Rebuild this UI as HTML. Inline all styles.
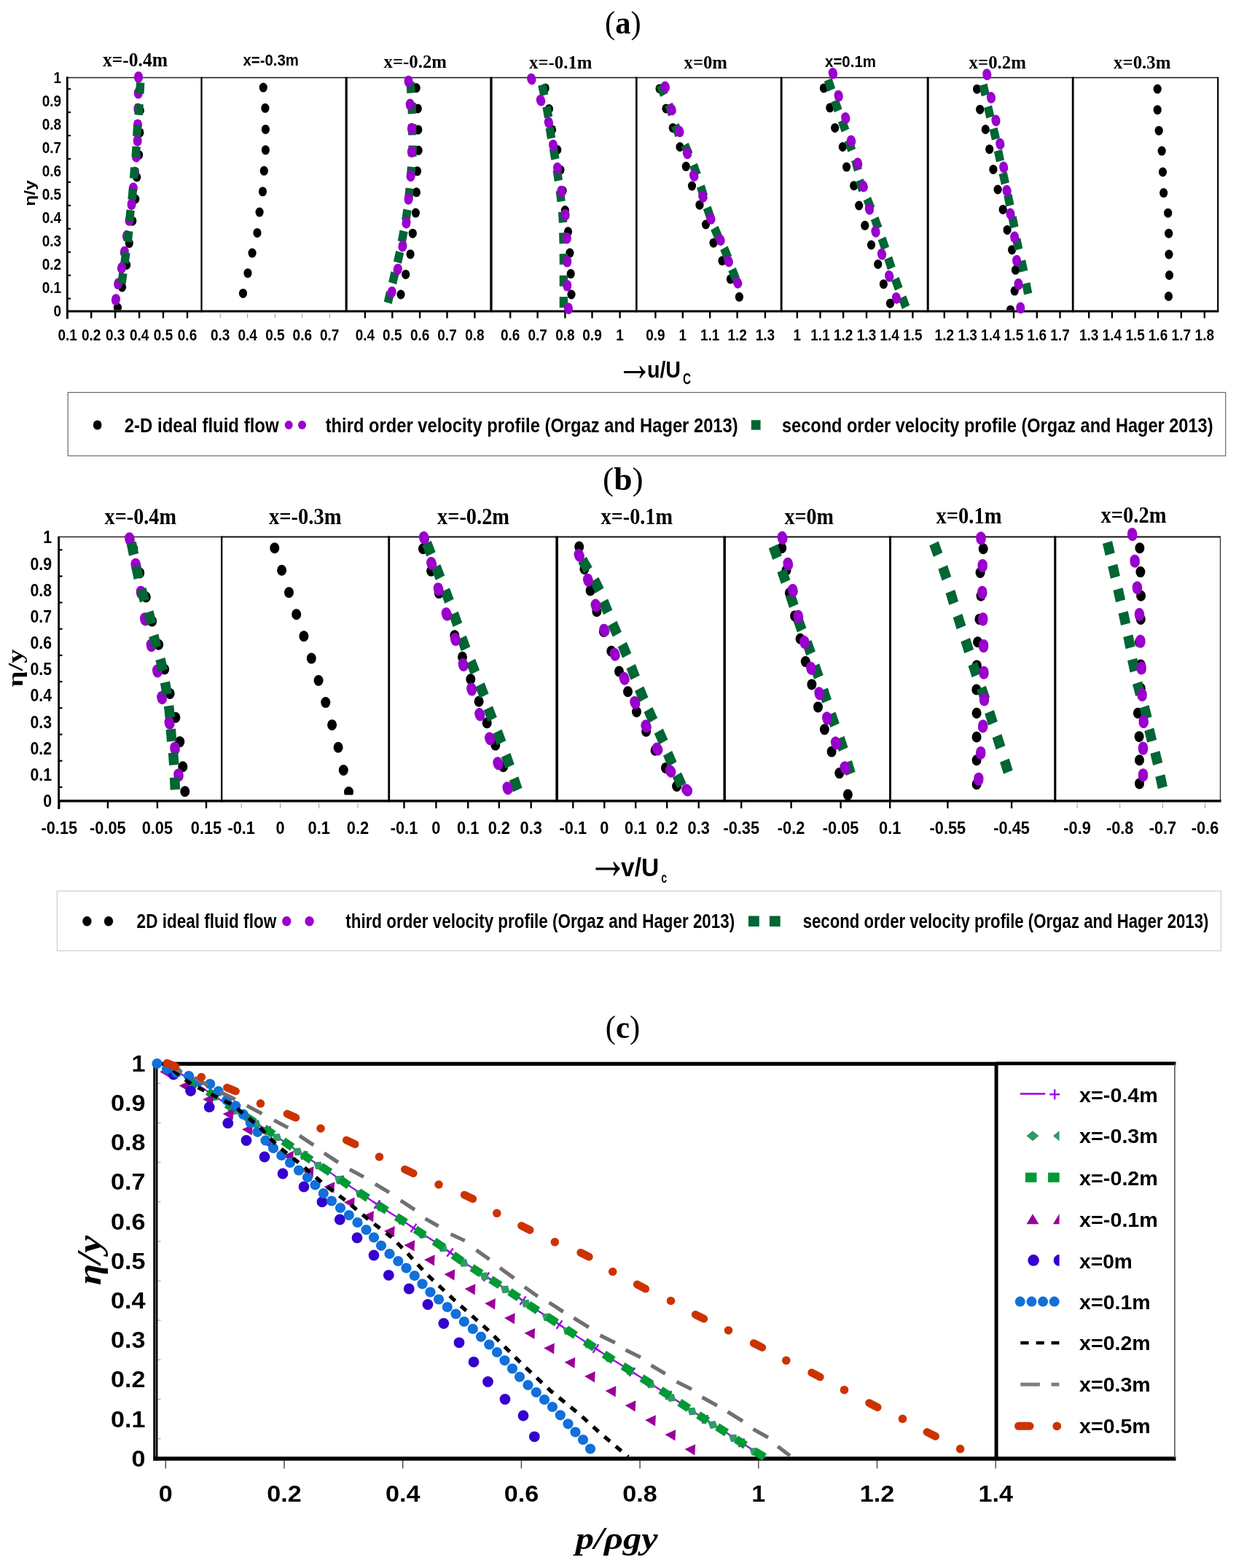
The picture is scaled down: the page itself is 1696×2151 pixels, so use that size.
<!DOCTYPE html>
<html><head><meta charset="utf-8"><title>Velocity and pressure profiles</title>
<style>html,body{margin:0;padding:0;background:#fff;}svg{display:block;}</style></head>
<body><svg xmlns="http://www.w3.org/2000/svg" width="1696" height="2151" viewBox="0 0 1696 2151">
<rect x="0" y="0" width="1696" height="2151" fill="#fff"/>
<text x="830.0" y="45.5" font-family='"Liberation Serif", "Times New Roman", serif' font-size="45" font-weight="normal" text-anchor="start" fill="#000" textLength="49.7" lengthAdjust="spacingAndGlyphs">(<tspan font-weight="bold">a</tspan>)</text>
<text x="141.0" y="90.8" font-family='"Liberation Serif", "Times New Roman", serif' font-size="27" font-weight="bold" text-anchor="start" fill="#000" textLength="89.0" lengthAdjust="spacingAndGlyphs">x=-0.4m</text>
<line x1="93.0" y1="106.5" x2="276.5" y2="106.5" stroke="#222" stroke-width="1.3" stroke-linecap="butt"/>
<line x1="92.0" y1="427.0" x2="277.5" y2="427.0" stroke="#000" stroke-width="3.0" stroke-linecap="butt"/>
<line x1="92.7" y1="427.0" x2="92.7" y2="436.5" stroke="#000" stroke-width="2.4" stroke-linecap="butt"/>
<text x="92.7" y="466.9" font-family='"Liberation Sans", Arial, sans-serif' font-size="21.8" font-weight="bold" text-anchor="middle" fill="#000" textLength="26.4" lengthAdjust="spacingAndGlyphs">0.1</text>
<line x1="125.2" y1="427.0" x2="125.2" y2="436.5" stroke="#000" stroke-width="2.4" stroke-linecap="butt"/>
<text x="125.2" y="466.9" font-family='"Liberation Sans", Arial, sans-serif' font-size="21.8" font-weight="bold" text-anchor="middle" fill="#000" textLength="26.4" lengthAdjust="spacingAndGlyphs">0.2</text>
<line x1="158.1" y1="427.0" x2="158.1" y2="436.5" stroke="#000" stroke-width="2.4" stroke-linecap="butt"/>
<text x="158.1" y="466.9" font-family='"Liberation Sans", Arial, sans-serif' font-size="21.8" font-weight="bold" text-anchor="middle" fill="#000" textLength="26.4" lengthAdjust="spacingAndGlyphs">0.3</text>
<line x1="191.1" y1="427.0" x2="191.1" y2="436.5" stroke="#000" stroke-width="2.4" stroke-linecap="butt"/>
<text x="191.1" y="466.9" font-family='"Liberation Sans", Arial, sans-serif' font-size="21.8" font-weight="bold" text-anchor="middle" fill="#000" textLength="26.4" lengthAdjust="spacingAndGlyphs">0.4</text>
<line x1="224.0" y1="427.0" x2="224.0" y2="436.5" stroke="#000" stroke-width="2.4" stroke-linecap="butt"/>
<text x="224.0" y="466.9" font-family='"Liberation Sans", Arial, sans-serif' font-size="21.8" font-weight="bold" text-anchor="middle" fill="#000" textLength="26.4" lengthAdjust="spacingAndGlyphs">0.5</text>
<line x1="257.0" y1="427.0" x2="257.0" y2="436.5" stroke="#000" stroke-width="2.4" stroke-linecap="butt"/>
<text x="257.0" y="466.9" font-family='"Liberation Sans", Arial, sans-serif' font-size="21.8" font-weight="bold" text-anchor="middle" fill="#000" textLength="26.4" lengthAdjust="spacingAndGlyphs">0.6</text>
<text x="333.5" y="90.0" font-family='"Liberation Sans", Arial, sans-serif' font-size="21.5" font-weight="bold" text-anchor="start" fill="#000" textLength="76.5" lengthAdjust="spacingAndGlyphs">x=-0.3m</text>
<line x1="276.5" y1="106.5" x2="474.7" y2="106.5" stroke="#111" stroke-width="1.6" stroke-linecap="butt"/>
<line x1="276.5" y1="105.7" x2="276.5" y2="428.0" stroke="#000" stroke-width="2.2" stroke-linecap="butt"/>
<line x1="474.7" y1="105.7" x2="474.7" y2="428.0" stroke="#000" stroke-width="2.2" stroke-linecap="butt"/>
<line x1="275.5" y1="427.0" x2="475.7" y2="427.0" stroke="#000" stroke-width="3.0" stroke-linecap="butt"/>
<line x1="302.2" y1="430.0" x2="302.2" y2="436.0" stroke="#999" stroke-width="1.0" stroke-linecap="butt"/>
<text x="302.2" y="466.9" font-family='"Liberation Sans", Arial, sans-serif' font-size="21.8" font-weight="bold" text-anchor="middle" fill="#000" textLength="26.4" lengthAdjust="spacingAndGlyphs">0.3</text>
<line x1="339.6" y1="430.0" x2="339.6" y2="436.0" stroke="#999" stroke-width="1.0" stroke-linecap="butt"/>
<text x="339.6" y="466.9" font-family='"Liberation Sans", Arial, sans-serif' font-size="21.8" font-weight="bold" text-anchor="middle" fill="#000" textLength="26.4" lengthAdjust="spacingAndGlyphs">0.4</text>
<line x1="377.4" y1="430.0" x2="377.4" y2="436.0" stroke="#999" stroke-width="1.0" stroke-linecap="butt"/>
<text x="377.4" y="466.9" font-family='"Liberation Sans", Arial, sans-serif' font-size="21.8" font-weight="bold" text-anchor="middle" fill="#000" textLength="26.4" lengthAdjust="spacingAndGlyphs">0.5</text>
<line x1="414.8" y1="430.0" x2="414.8" y2="436.0" stroke="#999" stroke-width="1.0" stroke-linecap="butt"/>
<text x="414.8" y="466.9" font-family='"Liberation Sans", Arial, sans-serif' font-size="21.8" font-weight="bold" text-anchor="middle" fill="#000" textLength="26.4" lengthAdjust="spacingAndGlyphs">0.6</text>
<line x1="452.2" y1="430.0" x2="452.2" y2="436.0" stroke="#999" stroke-width="1.0" stroke-linecap="butt"/>
<text x="452.2" y="466.9" font-family='"Liberation Sans", Arial, sans-serif' font-size="21.8" font-weight="bold" text-anchor="middle" fill="#000" textLength="26.4" lengthAdjust="spacingAndGlyphs">0.7</text>
<text x="526.5" y="92.5" font-family='"Liberation Serif", "Times New Roman", serif' font-size="26" font-weight="bold" text-anchor="start" fill="#000" textLength="86.5" lengthAdjust="spacingAndGlyphs">x=-0.2m</text>
<line x1="475.7" y1="106.5" x2="673.4" y2="106.5" stroke="#111" stroke-width="1.6" stroke-linecap="butt"/>
<line x1="475.7" y1="105.7" x2="475.7" y2="428.0" stroke="#000" stroke-width="2.2" stroke-linecap="butt"/>
<line x1="673.4" y1="105.7" x2="673.4" y2="428.0" stroke="#000" stroke-width="2.2" stroke-linecap="butt"/>
<line x1="474.7" y1="427.0" x2="674.4" y2="427.0" stroke="#000" stroke-width="3.0" stroke-linecap="butt"/>
<line x1="500.9" y1="427.0" x2="500.9" y2="436.5" stroke="#000" stroke-width="2.4" stroke-linecap="butt"/>
<text x="500.9" y="466.9" font-family='"Liberation Sans", Arial, sans-serif' font-size="21.8" font-weight="bold" text-anchor="middle" fill="#000" textLength="26.4" lengthAdjust="spacingAndGlyphs">0.4</text>
<line x1="538.3" y1="427.0" x2="538.3" y2="436.5" stroke="#000" stroke-width="2.4" stroke-linecap="butt"/>
<text x="538.3" y="466.9" font-family='"Liberation Sans", Arial, sans-serif' font-size="21.8" font-weight="bold" text-anchor="middle" fill="#000" textLength="26.4" lengthAdjust="spacingAndGlyphs">0.5</text>
<line x1="576.1" y1="427.0" x2="576.1" y2="436.5" stroke="#000" stroke-width="2.4" stroke-linecap="butt"/>
<text x="576.1" y="466.9" font-family='"Liberation Sans", Arial, sans-serif' font-size="21.8" font-weight="bold" text-anchor="middle" fill="#000" textLength="26.4" lengthAdjust="spacingAndGlyphs">0.6</text>
<line x1="613.5" y1="427.0" x2="613.5" y2="436.5" stroke="#000" stroke-width="2.4" stroke-linecap="butt"/>
<text x="613.5" y="466.9" font-family='"Liberation Sans", Arial, sans-serif' font-size="21.8" font-weight="bold" text-anchor="middle" fill="#000" textLength="26.4" lengthAdjust="spacingAndGlyphs">0.7</text>
<line x1="651.4" y1="427.0" x2="651.4" y2="436.5" stroke="#000" stroke-width="2.4" stroke-linecap="butt"/>
<text x="651.4" y="466.9" font-family='"Liberation Sans", Arial, sans-serif' font-size="21.8" font-weight="bold" text-anchor="middle" fill="#000" textLength="26.4" lengthAdjust="spacingAndGlyphs">0.8</text>
<text x="726.0" y="93.5" font-family='"Liberation Serif", "Times New Roman", serif' font-size="26" font-weight="bold" text-anchor="start" fill="#000" textLength="86.5" lengthAdjust="spacingAndGlyphs">x=-0.1m</text>
<line x1="674.5" y1="106.5" x2="873.3" y2="106.5" stroke="#111" stroke-width="1.6" stroke-linecap="butt"/>
<line x1="674.5" y1="105.7" x2="674.5" y2="428.0" stroke="#000" stroke-width="2.2" stroke-linecap="butt"/>
<line x1="873.3" y1="105.7" x2="873.3" y2="428.0" stroke="#000" stroke-width="2.2" stroke-linecap="butt"/>
<line x1="673.5" y1="427.0" x2="874.3" y2="427.0" stroke="#000" stroke-width="3.0" stroke-linecap="butt"/>
<line x1="700.2" y1="427.0" x2="700.2" y2="436.5" stroke="#000" stroke-width="2.4" stroke-linecap="butt"/>
<text x="700.2" y="466.9" font-family='"Liberation Sans", Arial, sans-serif' font-size="21.8" font-weight="bold" text-anchor="middle" fill="#000" textLength="26.4" lengthAdjust="spacingAndGlyphs">0.6</text>
<line x1="737.6" y1="427.0" x2="737.6" y2="436.5" stroke="#000" stroke-width="2.4" stroke-linecap="butt"/>
<text x="737.6" y="466.9" font-family='"Liberation Sans", Arial, sans-serif' font-size="21.8" font-weight="bold" text-anchor="middle" fill="#000" textLength="26.4" lengthAdjust="spacingAndGlyphs">0.7</text>
<line x1="775.4" y1="427.0" x2="775.4" y2="436.5" stroke="#000" stroke-width="2.4" stroke-linecap="butt"/>
<text x="775.4" y="466.9" font-family='"Liberation Sans", Arial, sans-serif' font-size="21.8" font-weight="bold" text-anchor="middle" fill="#000" textLength="26.4" lengthAdjust="spacingAndGlyphs">0.8</text>
<line x1="812.5" y1="427.0" x2="812.5" y2="436.5" stroke="#000" stroke-width="2.4" stroke-linecap="butt"/>
<text x="812.5" y="466.9" font-family='"Liberation Sans", Arial, sans-serif' font-size="21.8" font-weight="bold" text-anchor="middle" fill="#000" textLength="26.4" lengthAdjust="spacingAndGlyphs">0.9</text>
<line x1="850.6" y1="427.0" x2="850.6" y2="436.5" stroke="#000" stroke-width="2.4" stroke-linecap="butt"/>
<text x="850.6" y="466.9" font-family='"Liberation Sans", Arial, sans-serif' font-size="21.8" font-weight="bold" text-anchor="middle" fill="#000" textLength="10.5" lengthAdjust="spacingAndGlyphs">1</text>
<text x="938.5" y="94.0" font-family='"Liberation Serif", "Times New Roman", serif' font-size="26" font-weight="bold" text-anchor="start" fill="#000" textLength="59.5" lengthAdjust="spacingAndGlyphs">x=0m</text>
<line x1="873.3" y1="106.5" x2="1071.8" y2="106.5" stroke="#111" stroke-width="1.6" stroke-linecap="butt"/>
<line x1="873.3" y1="105.7" x2="873.3" y2="428.0" stroke="#000" stroke-width="2.2" stroke-linecap="butt"/>
<line x1="1071.8" y1="105.7" x2="1071.8" y2="428.0" stroke="#000" stroke-width="2.2" stroke-linecap="butt"/>
<line x1="872.3" y1="427.0" x2="1072.8" y2="427.0" stroke="#000" stroke-width="3.0" stroke-linecap="butt"/>
<line x1="899.4" y1="427.0" x2="899.4" y2="436.5" stroke="#000" stroke-width="2.4" stroke-linecap="butt"/>
<text x="899.4" y="466.9" font-family='"Liberation Sans", Arial, sans-serif' font-size="21.8" font-weight="bold" text-anchor="middle" fill="#000" textLength="26.4" lengthAdjust="spacingAndGlyphs">0.9</text>
<line x1="936.8" y1="427.0" x2="936.8" y2="436.5" stroke="#000" stroke-width="2.4" stroke-linecap="butt"/>
<text x="936.8" y="466.9" font-family='"Liberation Sans", Arial, sans-serif' font-size="21.8" font-weight="bold" text-anchor="middle" fill="#000" textLength="10.5" lengthAdjust="spacingAndGlyphs">1</text>
<line x1="974.2" y1="427.0" x2="974.2" y2="436.5" stroke="#000" stroke-width="2.4" stroke-linecap="butt"/>
<text x="974.2" y="466.9" font-family='"Liberation Sans", Arial, sans-serif' font-size="21.8" font-weight="bold" text-anchor="middle" fill="#000" textLength="26.4" lengthAdjust="spacingAndGlyphs">1.1</text>
<line x1="1011.6" y1="427.0" x2="1011.6" y2="436.5" stroke="#000" stroke-width="2.4" stroke-linecap="butt"/>
<text x="1011.6" y="466.9" font-family='"Liberation Sans", Arial, sans-serif' font-size="21.8" font-weight="bold" text-anchor="middle" fill="#000" textLength="26.4" lengthAdjust="spacingAndGlyphs">1.2</text>
<line x1="1049.9" y1="427.0" x2="1049.9" y2="436.5" stroke="#000" stroke-width="2.4" stroke-linecap="butt"/>
<text x="1049.9" y="466.9" font-family='"Liberation Sans", Arial, sans-serif' font-size="21.8" font-weight="bold" text-anchor="middle" fill="#000" textLength="26.4" lengthAdjust="spacingAndGlyphs">1.3</text>
<text x="1132.0" y="91.5" font-family='"Liberation Sans", Arial, sans-serif' font-size="21.5" font-weight="bold" text-anchor="start" fill="#000" textLength="70.0" lengthAdjust="spacingAndGlyphs">x=0.1m</text>
<line x1="1072.5" y1="106.5" x2="1272.8" y2="106.5" stroke="#111" stroke-width="1.6" stroke-linecap="butt"/>
<line x1="1072.5" y1="105.7" x2="1072.5" y2="428.0" stroke="#000" stroke-width="2.2" stroke-linecap="butt"/>
<line x1="1272.8" y1="105.7" x2="1272.8" y2="428.0" stroke="#000" stroke-width="2.2" stroke-linecap="butt"/>
<line x1="1071.5" y1="427.0" x2="1273.8" y2="427.0" stroke="#000" stroke-width="3.0" stroke-linecap="butt"/>
<line x1="1093.8" y1="427.0" x2="1093.8" y2="436.5" stroke="#000" stroke-width="2.4" stroke-linecap="butt"/>
<text x="1093.8" y="466.9" font-family='"Liberation Sans", Arial, sans-serif' font-size="21.8" font-weight="bold" text-anchor="middle" fill="#000" textLength="10.5" lengthAdjust="spacingAndGlyphs">1</text>
<line x1="1125.5" y1="427.0" x2="1125.5" y2="436.5" stroke="#000" stroke-width="2.4" stroke-linecap="butt"/>
<text x="1125.5" y="466.9" font-family='"Liberation Sans", Arial, sans-serif' font-size="21.8" font-weight="bold" text-anchor="middle" fill="#000" textLength="26.4" lengthAdjust="spacingAndGlyphs">1.1</text>
<line x1="1157.1" y1="427.0" x2="1157.1" y2="436.5" stroke="#000" stroke-width="2.4" stroke-linecap="butt"/>
<text x="1157.1" y="466.9" font-family='"Liberation Sans", Arial, sans-serif' font-size="21.8" font-weight="bold" text-anchor="middle" fill="#000" textLength="26.4" lengthAdjust="spacingAndGlyphs">1.2</text>
<line x1="1189.0" y1="427.0" x2="1189.0" y2="436.5" stroke="#000" stroke-width="2.4" stroke-linecap="butt"/>
<text x="1189.0" y="466.9" font-family='"Liberation Sans", Arial, sans-serif' font-size="21.8" font-weight="bold" text-anchor="middle" fill="#000" textLength="26.4" lengthAdjust="spacingAndGlyphs">1.3</text>
<line x1="1220.7" y1="427.0" x2="1220.7" y2="436.5" stroke="#000" stroke-width="2.4" stroke-linecap="butt"/>
<text x="1220.7" y="466.9" font-family='"Liberation Sans", Arial, sans-serif' font-size="21.8" font-weight="bold" text-anchor="middle" fill="#000" textLength="26.4" lengthAdjust="spacingAndGlyphs">1.4</text>
<line x1="1252.4" y1="427.0" x2="1252.4" y2="436.5" stroke="#000" stroke-width="2.4" stroke-linecap="butt"/>
<text x="1252.4" y="466.9" font-family='"Liberation Sans", Arial, sans-serif' font-size="21.8" font-weight="bold" text-anchor="middle" fill="#000" textLength="26.4" lengthAdjust="spacingAndGlyphs">1.5</text>
<text x="1329.5" y="94.0" font-family='"Liberation Serif", "Times New Roman", serif' font-size="26" font-weight="bold" text-anchor="start" fill="#000" textLength="78.5" lengthAdjust="spacingAndGlyphs">x=0.2m</text>
<line x1="1273.6" y1="106.5" x2="1471.9" y2="106.5" stroke="#111" stroke-width="1.6" stroke-linecap="butt"/>
<line x1="1273.6" y1="105.7" x2="1273.6" y2="428.0" stroke="#000" stroke-width="2.2" stroke-linecap="butt"/>
<line x1="1471.9" y1="105.7" x2="1471.9" y2="428.0" stroke="#000" stroke-width="2.2" stroke-linecap="butt"/>
<line x1="1272.6" y1="427.0" x2="1472.9" y2="427.0" stroke="#000" stroke-width="3.0" stroke-linecap="butt"/>
<line x1="1295.8" y1="427.0" x2="1295.8" y2="436.5" stroke="#000" stroke-width="2.4" stroke-linecap="butt"/>
<text x="1295.8" y="466.9" font-family='"Liberation Sans", Arial, sans-serif' font-size="21.8" font-weight="bold" text-anchor="middle" fill="#000" textLength="26.4" lengthAdjust="spacingAndGlyphs">1.2</text>
<line x1="1327.6" y1="427.0" x2="1327.6" y2="436.5" stroke="#000" stroke-width="2.4" stroke-linecap="butt"/>
<text x="1327.6" y="466.9" font-family='"Liberation Sans", Arial, sans-serif' font-size="21.8" font-weight="bold" text-anchor="middle" fill="#000" textLength="26.4" lengthAdjust="spacingAndGlyphs">1.3</text>
<line x1="1359.3" y1="427.0" x2="1359.3" y2="436.5" stroke="#000" stroke-width="2.4" stroke-linecap="butt"/>
<text x="1359.3" y="466.9" font-family='"Liberation Sans", Arial, sans-serif' font-size="21.8" font-weight="bold" text-anchor="middle" fill="#000" textLength="26.4" lengthAdjust="spacingAndGlyphs">1.4</text>
<line x1="1391.0" y1="427.0" x2="1391.0" y2="436.5" stroke="#000" stroke-width="2.4" stroke-linecap="butt"/>
<text x="1391.0" y="466.9" font-family='"Liberation Sans", Arial, sans-serif' font-size="21.8" font-weight="bold" text-anchor="middle" fill="#000" textLength="26.4" lengthAdjust="spacingAndGlyphs">1.5</text>
<line x1="1422.8" y1="427.0" x2="1422.8" y2="436.5" stroke="#000" stroke-width="2.4" stroke-linecap="butt"/>
<text x="1422.8" y="466.9" font-family='"Liberation Sans", Arial, sans-serif' font-size="21.8" font-weight="bold" text-anchor="middle" fill="#000" textLength="26.4" lengthAdjust="spacingAndGlyphs">1.6</text>
<line x1="1454.5" y1="427.0" x2="1454.5" y2="436.5" stroke="#000" stroke-width="2.4" stroke-linecap="butt"/>
<text x="1454.5" y="466.9" font-family='"Liberation Sans", Arial, sans-serif' font-size="21.8" font-weight="bold" text-anchor="middle" fill="#000" textLength="26.4" lengthAdjust="spacingAndGlyphs">1.7</text>
<text x="1528.0" y="94.0" font-family='"Liberation Serif", "Times New Roman", serif' font-size="26" font-weight="bold" text-anchor="start" fill="#000" textLength="78.5" lengthAdjust="spacingAndGlyphs">x=0.3m</text>
<line x1="1472.5" y1="106.5" x2="1671.2" y2="106.5" stroke="#111" stroke-width="1.6" stroke-linecap="butt"/>
<line x1="1472.5" y1="105.7" x2="1472.5" y2="428.0" stroke="#000" stroke-width="2.2" stroke-linecap="butt"/>
<line x1="1671.2" y1="105.7" x2="1671.2" y2="428.0" stroke="#000" stroke-width="2.2" stroke-linecap="butt"/>
<line x1="1471.5" y1="427.0" x2="1672.2" y2="427.0" stroke="#000" stroke-width="3.0" stroke-linecap="butt"/>
<line x1="1494.2" y1="427.0" x2="1494.2" y2="436.5" stroke="#000" stroke-width="2.4" stroke-linecap="butt"/>
<text x="1494.2" y="466.9" font-family='"Liberation Sans", Arial, sans-serif' font-size="21.8" font-weight="bold" text-anchor="middle" fill="#000" textLength="26.4" lengthAdjust="spacingAndGlyphs">1.3</text>
<line x1="1525.9" y1="427.0" x2="1525.9" y2="436.5" stroke="#000" stroke-width="2.4" stroke-linecap="butt"/>
<text x="1525.9" y="466.9" font-family='"Liberation Sans", Arial, sans-serif' font-size="21.8" font-weight="bold" text-anchor="middle" fill="#000" textLength="26.4" lengthAdjust="spacingAndGlyphs">1.4</text>
<line x1="1557.6" y1="427.0" x2="1557.6" y2="436.5" stroke="#000" stroke-width="2.4" stroke-linecap="butt"/>
<text x="1557.6" y="466.9" font-family='"Liberation Sans", Arial, sans-serif' font-size="21.8" font-weight="bold" text-anchor="middle" fill="#000" textLength="26.4" lengthAdjust="spacingAndGlyphs">1.5</text>
<line x1="1589.0" y1="427.0" x2="1589.0" y2="436.5" stroke="#000" stroke-width="2.4" stroke-linecap="butt"/>
<text x="1589.0" y="466.9" font-family='"Liberation Sans", Arial, sans-serif' font-size="21.8" font-weight="bold" text-anchor="middle" fill="#000" textLength="26.4" lengthAdjust="spacingAndGlyphs">1.6</text>
<line x1="1620.8" y1="427.0" x2="1620.8" y2="436.5" stroke="#000" stroke-width="2.4" stroke-linecap="butt"/>
<text x="1620.8" y="466.9" font-family='"Liberation Sans", Arial, sans-serif' font-size="21.8" font-weight="bold" text-anchor="middle" fill="#000" textLength="26.4" lengthAdjust="spacingAndGlyphs">1.7</text>
<line x1="1652.8" y1="427.0" x2="1652.8" y2="436.5" stroke="#000" stroke-width="2.4" stroke-linecap="butt"/>
<text x="1652.8" y="466.9" font-family='"Liberation Sans", Arial, sans-serif' font-size="21.8" font-weight="bold" text-anchor="middle" fill="#000" textLength="26.4" lengthAdjust="spacingAndGlyphs">1.8</text>
<line x1="92.3" y1="105.3" x2="92.3" y2="437.5" stroke="#000" stroke-width="2.8" stroke-linecap="butt"/>
<line x1="92.3" y1="122.1" x2="97.0" y2="122.1" stroke="#000" stroke-width="2.2" stroke-linecap="butt"/>
<line x1="92.3" y1="154.0" x2="97.0" y2="154.0" stroke="#000" stroke-width="2.2" stroke-linecap="butt"/>
<line x1="92.3" y1="186.0" x2="97.0" y2="186.0" stroke="#000" stroke-width="2.2" stroke-linecap="butt"/>
<line x1="92.3" y1="217.9" x2="97.0" y2="217.9" stroke="#000" stroke-width="2.2" stroke-linecap="butt"/>
<line x1="92.3" y1="249.9" x2="97.0" y2="249.9" stroke="#000" stroke-width="2.2" stroke-linecap="butt"/>
<line x1="92.3" y1="281.9" x2="97.0" y2="281.9" stroke="#000" stroke-width="2.2" stroke-linecap="butt"/>
<line x1="92.3" y1="313.8" x2="97.0" y2="313.8" stroke="#000" stroke-width="2.2" stroke-linecap="butt"/>
<line x1="92.3" y1="345.8" x2="97.0" y2="345.8" stroke="#000" stroke-width="2.2" stroke-linecap="butt"/>
<line x1="92.3" y1="377.7" x2="97.0" y2="377.7" stroke="#000" stroke-width="2.2" stroke-linecap="butt"/>
<line x1="92.3" y1="409.6" x2="97.0" y2="409.6" stroke="#000" stroke-width="2.2" stroke-linecap="butt"/>
<text x="84.2" y="433.8" font-family='"Liberation Sans", Arial, sans-serif' font-size="21.4" font-weight="bold" text-anchor="end" fill="#000" textLength="10.6" lengthAdjust="spacingAndGlyphs">0</text>
<text x="84.2" y="401.8" font-family='"Liberation Sans", Arial, sans-serif' font-size="21.4" font-weight="bold" text-anchor="end" fill="#000" textLength="26.5" lengthAdjust="spacingAndGlyphs">0.1</text>
<text x="84.2" y="369.9" font-family='"Liberation Sans", Arial, sans-serif' font-size="21.4" font-weight="bold" text-anchor="end" fill="#000" textLength="26.5" lengthAdjust="spacingAndGlyphs">0.2</text>
<text x="84.2" y="337.9" font-family='"Liberation Sans", Arial, sans-serif' font-size="21.4" font-weight="bold" text-anchor="end" fill="#000" textLength="26.5" lengthAdjust="spacingAndGlyphs">0.3</text>
<text x="84.2" y="306.0" font-family='"Liberation Sans", Arial, sans-serif' font-size="21.4" font-weight="bold" text-anchor="end" fill="#000" textLength="26.5" lengthAdjust="spacingAndGlyphs">0.4</text>
<text x="84.2" y="274.0" font-family='"Liberation Sans", Arial, sans-serif' font-size="21.4" font-weight="bold" text-anchor="end" fill="#000" textLength="26.5" lengthAdjust="spacingAndGlyphs">0.5</text>
<text x="84.2" y="242.1" font-family='"Liberation Sans", Arial, sans-serif' font-size="21.4" font-weight="bold" text-anchor="end" fill="#000" textLength="26.5" lengthAdjust="spacingAndGlyphs">0.6</text>
<text x="84.2" y="210.2" font-family='"Liberation Sans", Arial, sans-serif' font-size="21.4" font-weight="bold" text-anchor="end" fill="#000" textLength="26.5" lengthAdjust="spacingAndGlyphs">0.7</text>
<text x="84.2" y="178.2" font-family='"Liberation Sans", Arial, sans-serif' font-size="21.4" font-weight="bold" text-anchor="end" fill="#000" textLength="26.5" lengthAdjust="spacingAndGlyphs">0.8</text>
<text x="84.2" y="146.2" font-family='"Liberation Sans", Arial, sans-serif' font-size="21.4" font-weight="bold" text-anchor="end" fill="#000" textLength="26.5" lengthAdjust="spacingAndGlyphs">0.9</text>
<text x="84.2" y="114.3" font-family='"Liberation Sans", Arial, sans-serif' font-size="21.4" font-weight="bold" text-anchor="end" fill="#000" textLength="10.6" lengthAdjust="spacingAndGlyphs">1</text>
<text x="0.0" y="0.0" font-family='"Liberation Sans", Arial, sans-serif' font-size="19.5" font-weight="bold" text-anchor="middle" fill="#000" textLength="35.5" lengthAdjust="spacingAndGlyphs" transform="translate(48.2,264.9) rotate(-90)">η/y</text>
<text x="0.0" y="0.0" font-family='"Liberation Serif", "Times New Roman", serif' font-size="50" font-weight="normal" text-anchor="start" fill="#000" transform="translate(846,521.9) scale(1,1.4)">→</text>
<text x="887.9" y="518.2" font-family='"Liberation Sans", Arial, sans-serif' font-size="30.5" font-weight="bold" text-anchor="start" fill="#000" textLength="46.2" lengthAdjust="spacingAndGlyphs">u/U</text>
<text x="937.0" y="526.5" font-family='"Liberation Sans", Arial, sans-serif' font-size="22" font-weight="bold" text-anchor="start" fill="#000" textLength="11.1" lengthAdjust="spacingAndGlyphs">C</text>
<clipPath id="clipA"><rect x="0" y="0" width="1696" height="425.5"/></clipPath>
<g clip-path="url(#clipA)">
<ellipse cx="192.3" cy="121.0" rx="5.6" ry="6.5" fill="#000"/>
<ellipse cx="192.3" cy="151.5" rx="5.6" ry="6.5" fill="#000"/>
<ellipse cx="191.9" cy="181.9" rx="5.6" ry="6.5" fill="#000"/>
<ellipse cx="190.6" cy="212.4" rx="5.6" ry="6.5" fill="#000"/>
<ellipse cx="187.7" cy="243.0" rx="5.6" ry="6.5" fill="#000"/>
<ellipse cx="185.8" cy="273.0" rx="5.6" ry="6.5" fill="#000"/>
<ellipse cx="181.7" cy="303.2" rx="5.6" ry="6.5" fill="#000"/>
<ellipse cx="177.3" cy="333.6" rx="5.6" ry="6.5" fill="#000"/>
<ellipse cx="173.6" cy="363.4" rx="5.6" ry="6.5" fill="#000"/>
<ellipse cx="167.5" cy="394.0" rx="5.6" ry="6.5" fill="#000"/>
<ellipse cx="161.4" cy="422.0" rx="5.6" ry="6.5" fill="#000"/>
<ellipse cx="361.3" cy="120.1" rx="5.6" ry="6.5" fill="#000"/>
<ellipse cx="363.9" cy="148.3" rx="5.6" ry="6.5" fill="#000"/>
<ellipse cx="364.4" cy="177.4" rx="5.6" ry="6.5" fill="#000"/>
<ellipse cx="364.4" cy="205.8" rx="5.6" ry="6.5" fill="#000"/>
<ellipse cx="362.3" cy="234.3" rx="5.6" ry="6.5" fill="#000"/>
<ellipse cx="360.5" cy="262.8" rx="5.6" ry="6.5" fill="#000"/>
<ellipse cx="356.1" cy="291.1" rx="5.6" ry="6.5" fill="#000"/>
<ellipse cx="353.0" cy="319.4" rx="5.6" ry="6.5" fill="#000"/>
<ellipse cx="346.1" cy="347.1" rx="5.6" ry="6.5" fill="#000"/>
<ellipse cx="340.0" cy="374.7" rx="5.6" ry="6.5" fill="#000"/>
<ellipse cx="333.5" cy="402.4" rx="5.6" ry="6.5" fill="#000"/>
<ellipse cx="571.2" cy="120.6" rx="5.6" ry="6.5" fill="#000"/>
<ellipse cx="573.3" cy="148.9" rx="5.6" ry="6.5" fill="#000"/>
<ellipse cx="573.8" cy="177.9" rx="5.6" ry="6.5" fill="#000"/>
<ellipse cx="574.1" cy="206.3" rx="5.6" ry="6.5" fill="#000"/>
<ellipse cx="572.5" cy="234.8" rx="5.6" ry="6.5" fill="#000"/>
<ellipse cx="571.4" cy="263.8" rx="5.6" ry="6.5" fill="#000"/>
<ellipse cx="570.4" cy="292.1" rx="5.6" ry="6.5" fill="#000"/>
<ellipse cx="566.3" cy="320.2" rx="5.6" ry="6.5" fill="#000"/>
<ellipse cx="563.1" cy="348.7" rx="5.6" ry="6.5" fill="#000"/>
<ellipse cx="556.7" cy="376.4" rx="5.6" ry="6.5" fill="#000"/>
<ellipse cx="550.0" cy="404.0" rx="5.6" ry="6.5" fill="#000"/>
<ellipse cx="748.2" cy="120.9" rx="5.6" ry="6.5" fill="#000"/>
<ellipse cx="753.4" cy="149.4" rx="5.6" ry="6.5" fill="#000"/>
<ellipse cx="757.5" cy="177.9" rx="5.6" ry="6.5" fill="#000"/>
<ellipse cx="764.8" cy="205.5" rx="5.6" ry="6.5" fill="#000"/>
<ellipse cx="768.9" cy="233.2" rx="5.6" ry="6.5" fill="#000"/>
<ellipse cx="772.1" cy="261.7" rx="5.6" ry="6.5" fill="#000"/>
<ellipse cx="775.4" cy="288.5" rx="5.6" ry="6.5" fill="#000"/>
<ellipse cx="779.5" cy="317.8" rx="5.6" ry="6.5" fill="#000"/>
<ellipse cx="781.9" cy="347.1" rx="5.6" ry="6.5" fill="#000"/>
<ellipse cx="783.2" cy="375.6" rx="5.6" ry="6.5" fill="#000"/>
<ellipse cx="784.0" cy="404.0" rx="5.6" ry="6.5" fill="#000"/>
<ellipse cx="905.1" cy="121.7" rx="5.6" ry="6.5" fill="#000"/>
<ellipse cx="914.0" cy="148.9" rx="5.6" ry="6.5" fill="#000"/>
<ellipse cx="923.3" cy="175.4" rx="5.6" ry="6.5" fill="#000"/>
<ellipse cx="933.0" cy="201.5" rx="5.6" ry="6.5" fill="#000"/>
<ellipse cx="941.3" cy="228.3" rx="5.6" ry="6.5" fill="#000"/>
<ellipse cx="949.5" cy="255.1" rx="5.6" ry="6.5" fill="#000"/>
<ellipse cx="960.0" cy="281.2" rx="5.6" ry="6.5" fill="#000"/>
<ellipse cx="968.5" cy="308.0" rx="5.6" ry="6.5" fill="#000"/>
<ellipse cx="979.1" cy="333.2" rx="5.6" ry="6.5" fill="#000"/>
<ellipse cx="991.0" cy="357.7" rx="5.6" ry="6.5" fill="#000"/>
<ellipse cx="1002.4" cy="382.9" rx="5.6" ry="6.5" fill="#000"/>
<ellipse cx="1014.4" cy="407.3" rx="5.6" ry="6.5" fill="#000"/>
<ellipse cx="1130.4" cy="120.9" rx="5.6" ry="6.5" fill="#000"/>
<ellipse cx="1138.8" cy="147.8" rx="5.6" ry="6.5" fill="#000"/>
<ellipse cx="1145.7" cy="175.4" rx="5.6" ry="6.5" fill="#000"/>
<ellipse cx="1156.3" cy="201.5" rx="5.6" ry="6.5" fill="#000"/>
<ellipse cx="1161.6" cy="229.1" rx="5.6" ry="6.5" fill="#000"/>
<ellipse cx="1171.7" cy="254.7" rx="5.6" ry="6.5" fill="#000"/>
<ellipse cx="1178.7" cy="282.0" rx="5.6" ry="6.5" fill="#000"/>
<ellipse cx="1186.8" cy="309.3" rx="5.6" ry="6.5" fill="#000"/>
<ellipse cx="1195.5" cy="336.0" rx="5.6" ry="6.5" fill="#000"/>
<ellipse cx="1204.7" cy="362.5" rx="5.6" ry="6.5" fill="#000"/>
<ellipse cx="1212.4" cy="389.7" rx="5.6" ry="6.5" fill="#000"/>
<ellipse cx="1221.5" cy="416.2" rx="5.6" ry="6.5" fill="#000"/>
<ellipse cx="1340.6" cy="122.2" rx="5.6" ry="6.5" fill="#000"/>
<ellipse cx="1344.7" cy="150.2" rx="5.6" ry="6.5" fill="#000"/>
<ellipse cx="1352.3" cy="177.5" rx="5.6" ry="6.5" fill="#000"/>
<ellipse cx="1357.7" cy="204.7" rx="5.6" ry="6.5" fill="#000"/>
<ellipse cx="1362.9" cy="232.4" rx="5.6" ry="6.5" fill="#000"/>
<ellipse cx="1369.1" cy="260.0" rx="5.6" ry="6.5" fill="#000"/>
<ellipse cx="1376.2" cy="287.4" rx="5.6" ry="6.5" fill="#000"/>
<ellipse cx="1382.1" cy="315.4" rx="5.6" ry="6.5" fill="#000"/>
<ellipse cx="1388.6" cy="342.7" rx="5.6" ry="6.5" fill="#000"/>
<ellipse cx="1393.5" cy="370.3" rx="5.6" ry="6.5" fill="#000"/>
<ellipse cx="1392.2" cy="399.1" rx="5.6" ry="6.5" fill="#000"/>
<ellipse cx="1386.5" cy="425.2" rx="5.6" ry="6.5" fill="#000"/>
<ellipse cx="1588.2" cy="122.1" rx="5.6" ry="6.5" fill="#000"/>
<ellipse cx="1588.2" cy="150.7" rx="5.6" ry="6.5" fill="#000"/>
<ellipse cx="1590.2" cy="179.2" rx="5.6" ry="6.5" fill="#000"/>
<ellipse cx="1594.2" cy="207.1" rx="5.6" ry="6.5" fill="#000"/>
<ellipse cx="1595.5" cy="236.0" rx="5.6" ry="6.5" fill="#000"/>
<ellipse cx="1596.7" cy="264.6" rx="5.6" ry="6.5" fill="#000"/>
<ellipse cx="1602.7" cy="292.2" rx="5.6" ry="6.5" fill="#000"/>
<ellipse cx="1603.7" cy="320.2" rx="5.6" ry="6.5" fill="#000"/>
<ellipse cx="1604.0" cy="349.0" rx="5.6" ry="6.5" fill="#000"/>
<ellipse cx="1604.5" cy="377.5" rx="5.6" ry="6.5" fill="#000"/>
<ellipse cx="1603.5" cy="406.5" rx="5.6" ry="6.5" fill="#000"/>
</g>
<g transform="translate(563.6,120.1) scale(1,1.15)">
<line x1="-0.4" y1="-6.5" x2="0.4" y2="6.5" stroke="#006633" stroke-width="11.4" stroke-linecap="butt"/>
</g>
<g transform="translate(565.2,148.6) scale(1,1.15)">
<line x1="-0.3" y1="-6.5" x2="0.3" y2="6.5" stroke="#006633" stroke-width="11.4" stroke-linecap="butt"/>
</g>
<g transform="translate(565.7,177.9) scale(1,1.15)">
<line x1="-0.1" y1="-6.5" x2="0.1" y2="6.5" stroke="#006633" stroke-width="11.4" stroke-linecap="butt"/>
</g>
<g transform="translate(566.0,207.1) scale(1,1.15)">
<line x1="0.2" y1="-6.5" x2="-0.2" y2="6.5" stroke="#006633" stroke-width="11.4" stroke-linecap="butt"/>
</g>
<g transform="translate(564.0,236.4) scale(1,1.15)">
<line x1="0.6" y1="-6.5" x2="-0.6" y2="6.5" stroke="#006633" stroke-width="11.4" stroke-linecap="butt"/>
</g>
<g transform="translate(561.4,265.7) scale(1,1.15)">
<line x1="0.8" y1="-6.5" x2="-0.8" y2="6.5" stroke="#006633" stroke-width="11.4" stroke-linecap="butt"/>
</g>
<g transform="translate(557.9,295.0) scale(1,1.15)">
<line x1="1.1" y1="-6.4" x2="-1.1" y2="6.4" stroke="#006633" stroke-width="11.4" stroke-linecap="butt"/>
</g>
<g transform="translate(552.7,324.3) scale(1,1.15)">
<line x1="1.4" y1="-6.4" x2="-1.4" y2="6.4" stroke="#006633" stroke-width="11.4" stroke-linecap="butt"/>
</g>
<g transform="translate(547.1,352.8) scale(1,1.15)">
<line x1="1.6" y1="-6.3" x2="-1.6" y2="6.3" stroke="#006633" stroke-width="11.4" stroke-linecap="butt"/>
</g>
<g transform="translate(540.3,381.2) scale(1,1.15)">
<line x1="1.7" y1="-6.3" x2="-1.7" y2="6.3" stroke="#006633" stroke-width="11.4" stroke-linecap="butt"/>
</g>
<g transform="translate(533.9,408.1) scale(1,1.15)">
<line x1="1.7" y1="-6.3" x2="-1.7" y2="6.3" stroke="#006633" stroke-width="11.4" stroke-linecap="butt"/>
</g>
<g transform="translate(745.3,123.4) scale(1,1.15)">
<line x1="-1.5" y1="-6.3" x2="1.5" y2="6.3" stroke="#006633" stroke-width="11.4" stroke-linecap="butt"/>
</g>
<g transform="translate(751.3,153.5) scale(1,1.15)">
<line x1="-1.3" y1="-6.4" x2="1.3" y2="6.4" stroke="#006633" stroke-width="11.4" stroke-linecap="butt"/>
</g>
<g transform="translate(755.4,182.4) scale(1,1.15)">
<line x1="-1.2" y1="-6.4" x2="1.2" y2="6.4" stroke="#006633" stroke-width="11.4" stroke-linecap="butt"/>
</g>
<g transform="translate(760.7,211.2) scale(1,1.15)">
<line x1="-1.2" y1="-6.4" x2="1.2" y2="6.4" stroke="#006633" stroke-width="11.4" stroke-linecap="butt"/>
</g>
<g transform="translate(765.3,240.5) scale(1,1.15)">
<line x1="-1.1" y1="-6.4" x2="1.1" y2="6.4" stroke="#006633" stroke-width="11.4" stroke-linecap="butt"/>
</g>
<g transform="translate(769.2,269.0) scale(1,1.15)">
<line x1="-0.9" y1="-6.4" x2="0.9" y2="6.4" stroke="#006633" stroke-width="11.4" stroke-linecap="butt"/>
</g>
<g transform="translate(772.1,297.9) scale(1,1.15)">
<line x1="-0.5" y1="-6.5" x2="0.5" y2="6.5" stroke="#006633" stroke-width="11.4" stroke-linecap="butt"/>
</g>
<g transform="translate(773.0,326.7) scale(1,1.15)">
<line x1="-0.2" y1="-6.5" x2="0.2" y2="6.5" stroke="#006633" stroke-width="11.4" stroke-linecap="butt"/>
</g>
<g transform="translate(773.4,355.5) scale(1,1.15)">
<line x1="-0.1" y1="-6.5" x2="0.1" y2="6.5" stroke="#006633" stroke-width="11.4" stroke-linecap="butt"/>
</g>
<g transform="translate(773.4,385.3) scale(1,1.15)">
<line x1="-0.0" y1="-6.5" x2="0.0" y2="6.5" stroke="#006633" stroke-width="11.4" stroke-linecap="butt"/>
</g>
<g transform="translate(773.4,414.6) scale(1,1.15)">
<line x1="-0.0" y1="-6.5" x2="0.0" y2="6.5" stroke="#006633" stroke-width="11.4" stroke-linecap="butt"/>
</g>
<g transform="translate(908.6,123.4) scale(1,1.15)">
<line x1="-2.9" y1="-5.8" x2="2.9" y2="5.8" stroke="#006633" stroke-width="11.4" stroke-linecap="butt"/>
</g>
<g transform="translate(920.0,150.2) scale(1,1.15)">
<line x1="-2.5" y1="-6.0" x2="2.5" y2="6.0" stroke="#006633" stroke-width="11.4" stroke-linecap="butt"/>
</g>
<g transform="translate(929.1,178.7) scale(1,1.15)">
<line x1="-2.8" y1="-5.9" x2="2.8" y2="5.9" stroke="#006633" stroke-width="11.4" stroke-linecap="butt"/>
</g>
<g transform="translate(942.5,205.5) scale(1,1.15)">
<line x1="-3.0" y1="-5.8" x2="3.0" y2="5.8" stroke="#006633" stroke-width="11.4" stroke-linecap="butt"/>
</g>
<g transform="translate(953.9,233.2) scale(1,1.15)">
<line x1="-2.5" y1="-6.0" x2="2.5" y2="6.0" stroke="#006633" stroke-width="11.4" stroke-linecap="butt"/>
</g>
<g transform="translate(963.6,262.5) scale(1,1.15)">
<line x1="-2.2" y1="-6.1" x2="2.2" y2="6.1" stroke="#006633" stroke-width="11.4" stroke-linecap="butt"/>
</g>
<g transform="translate(972.6,291.8) scale(1,1.15)">
<line x1="-2.4" y1="-6.0" x2="2.4" y2="6.0" stroke="#006633" stroke-width="11.4" stroke-linecap="butt"/>
</g>
<g transform="translate(983.2,319.4) scale(1,1.15)">
<line x1="-2.9" y1="-5.8" x2="2.9" y2="5.8" stroke="#006633" stroke-width="11.4" stroke-linecap="butt"/>
</g>
<g transform="translate(996.2,347.1) scale(1,1.15)">
<line x1="-2.8" y1="-5.9" x2="2.8" y2="5.9" stroke="#006633" stroke-width="11.4" stroke-linecap="butt"/>
</g>
<g transform="translate(1007.2,376.4) scale(1,1.15)">
<line x1="-2.6" y1="-6.0" x2="2.6" y2="6.0" stroke="#006633" stroke-width="11.4" stroke-linecap="butt"/>
</g>
<g transform="translate(1138.5,116.4) scale(1,1.15)">
<line x1="-2.3" y1="-6.1" x2="2.3" y2="6.1" stroke="#006633" stroke-width="11.4" stroke-linecap="butt"/>
</g>
<g transform="translate(1147.8,145.0) scale(1,1.15)">
<line x1="-2.4" y1="-6.0" x2="2.4" y2="6.0" stroke="#006633" stroke-width="11.4" stroke-linecap="butt"/>
</g>
<g transform="translate(1157.6,172.2) scale(1,1.15)">
<line x1="-2.4" y1="-6.0" x2="2.4" y2="6.0" stroke="#006633" stroke-width="11.4" stroke-linecap="butt"/>
</g>
<g transform="translate(1166.5,199.3) scale(1,1.15)">
<line x1="-2.3" y1="-6.1" x2="2.3" y2="6.1" stroke="#006633" stroke-width="11.4" stroke-linecap="butt"/>
</g>
<g transform="translate(1175.5,226.3) scale(1,1.15)">
<line x1="-1.9" y1="-6.2" x2="1.9" y2="6.2" stroke="#006633" stroke-width="11.4" stroke-linecap="butt"/>
</g>
<g transform="translate(1181.5,254.3) scale(1,1.15)">
<line x1="-2.2" y1="-6.1" x2="2.2" y2="6.1" stroke="#006633" stroke-width="11.4" stroke-linecap="butt"/>
</g>
<g transform="translate(1192.5,279.6) scale(1,1.15)">
<line x1="-2.7" y1="-5.9" x2="2.7" y2="5.9" stroke="#006633" stroke-width="11.4" stroke-linecap="butt"/>
</g>
<g transform="translate(1202.6,306.4) scale(1,1.15)">
<line x1="-2.5" y1="-6.0" x2="2.5" y2="6.0" stroke="#006633" stroke-width="11.4" stroke-linecap="butt"/>
</g>
<g transform="translate(1212.4,334.0) scale(1,1.15)">
<line x1="-2.4" y1="-6.1" x2="2.4" y2="6.1" stroke="#006633" stroke-width="11.4" stroke-linecap="butt"/>
</g>
<g transform="translate(1221.0,360.9) scale(1,1.15)">
<line x1="-2.3" y1="-6.1" x2="2.3" y2="6.1" stroke="#006633" stroke-width="11.4" stroke-linecap="butt"/>
</g>
<g transform="translate(1230.8,389.4) scale(1,1.15)">
<line x1="-2.5" y1="-6.0" x2="2.5" y2="6.0" stroke="#006633" stroke-width="11.4" stroke-linecap="butt"/>
</g>
<g transform="translate(1240.5,414.6) scale(1,1.15)">
<line x1="-2.6" y1="-5.9" x2="2.6" y2="5.9" stroke="#006633" stroke-width="11.4" stroke-linecap="butt"/>
</g>
<g transform="translate(1350.7,123.4) scale(1,1.15)">
<line x1="-1.6" y1="-6.3" x2="1.6" y2="6.3" stroke="#006633" stroke-width="11.4" stroke-linecap="butt"/>
</g>
<g transform="translate(1357.2,153.5) scale(1,1.15)">
<line x1="-1.7" y1="-6.3" x2="1.7" y2="6.3" stroke="#006633" stroke-width="11.4" stroke-linecap="butt"/>
</g>
<g transform="translate(1364.8,183.6) scale(1,1.15)">
<line x1="-1.7" y1="-6.3" x2="1.7" y2="6.3" stroke="#006633" stroke-width="11.4" stroke-linecap="butt"/>
</g>
<g transform="translate(1371.0,213.7) scale(1,1.15)">
<line x1="-1.5" y1="-6.3" x2="1.5" y2="6.3" stroke="#006633" stroke-width="11.4" stroke-linecap="butt"/>
</g>
<g transform="translate(1377.8,244.6) scale(1,1.15)">
<line x1="-1.6" y1="-6.3" x2="1.6" y2="6.3" stroke="#006633" stroke-width="11.4" stroke-linecap="butt"/>
</g>
<g transform="translate(1384.4,274.7) scale(1,1.15)">
<line x1="-1.5" y1="-6.3" x2="1.5" y2="6.3" stroke="#006633" stroke-width="11.4" stroke-linecap="butt"/>
</g>
<g transform="translate(1390.5,304.8) scale(1,1.15)">
<line x1="-1.4" y1="-6.3" x2="1.4" y2="6.3" stroke="#006633" stroke-width="11.4" stroke-linecap="butt"/>
</g>
<g transform="translate(1396.2,334.9) scale(1,1.15)">
<line x1="-1.5" y1="-6.3" x2="1.5" y2="6.3" stroke="#006633" stroke-width="11.4" stroke-linecap="butt"/>
</g>
<g transform="translate(1403.2,365.0) scale(1,1.15)">
<line x1="-1.6" y1="-6.3" x2="1.6" y2="6.3" stroke="#006633" stroke-width="11.4" stroke-linecap="butt"/>
</g>
<g transform="translate(1409.3,395.9) scale(1,1.15)">
<line x1="-1.4" y1="-6.3" x2="1.4" y2="6.3" stroke="#006633" stroke-width="11.4" stroke-linecap="butt"/>
</g>
<g transform="translate(190.0,105.8) scale(1,1.15)">
<line x1="0.0" y1="-0.9" x2="-0.0" y2="0.9" stroke="#9900cc" stroke-width="11.8" stroke-linecap="round"/>
</g>
<g transform="translate(189.8,127.6) scale(1,1.15)">
<line x1="0.0" y1="-0.9" x2="-0.0" y2="0.9" stroke="#9900cc" stroke-width="11.8" stroke-linecap="round"/>
</g>
<g transform="translate(189.4,149.4) scale(1,1.15)">
<line x1="0.0" y1="-0.9" x2="-0.0" y2="0.9" stroke="#9900cc" stroke-width="11.8" stroke-linecap="round"/>
</g>
<g transform="translate(189.0,171.2) scale(1,1.15)">
<line x1="0.0" y1="-0.9" x2="-0.0" y2="0.9" stroke="#9900cc" stroke-width="11.8" stroke-linecap="round"/>
</g>
<g transform="translate(188.7,193.0) scale(1,1.15)">
<line x1="0.0" y1="-0.9" x2="-0.0" y2="0.9" stroke="#9900cc" stroke-width="11.8" stroke-linecap="round"/>
</g>
<g transform="translate(187.1,214.8) scale(1,1.15)">
<line x1="0.1" y1="-0.9" x2="-0.1" y2="0.9" stroke="#9900cc" stroke-width="11.8" stroke-linecap="round"/>
</g>
<g transform="translate(185.0,236.6) scale(1,1.15)">
<line x1="0.1" y1="-0.9" x2="-0.1" y2="0.9" stroke="#9900cc" stroke-width="11.8" stroke-linecap="round"/>
</g>
<g transform="translate(182.8,258.4) scale(1,1.15)">
<line x1="0.1" y1="-0.9" x2="-0.1" y2="0.9" stroke="#9900cc" stroke-width="11.8" stroke-linecap="round"/>
</g>
<g transform="translate(180.6,280.2) scale(1,1.15)">
<line x1="0.1" y1="-0.9" x2="-0.1" y2="0.9" stroke="#9900cc" stroke-width="11.8" stroke-linecap="round"/>
</g>
<g transform="translate(177.6,302.0) scale(1,1.15)">
<line x1="0.2" y1="-0.9" x2="-0.2" y2="0.9" stroke="#9900cc" stroke-width="11.8" stroke-linecap="round"/>
</g>
<g transform="translate(174.0,323.8) scale(1,1.15)">
<line x1="0.2" y1="-0.9" x2="-0.2" y2="0.9" stroke="#9900cc" stroke-width="11.8" stroke-linecap="round"/>
</g>
<g transform="translate(170.8,345.6) scale(1,1.15)">
<line x1="0.2" y1="-0.9" x2="-0.2" y2="0.9" stroke="#9900cc" stroke-width="11.8" stroke-linecap="round"/>
</g>
<g transform="translate(167.0,367.4) scale(1,1.15)">
<line x1="0.2" y1="-0.9" x2="-0.2" y2="0.9" stroke="#9900cc" stroke-width="11.8" stroke-linecap="round"/>
</g>
<g transform="translate(162.2,389.2) scale(1,1.15)">
<line x1="0.2" y1="-0.9" x2="-0.2" y2="0.9" stroke="#9900cc" stroke-width="11.8" stroke-linecap="round"/>
</g>
<g transform="translate(158.9,411.0) scale(1,1.15)">
<line x1="0.2" y1="-0.9" x2="-0.2" y2="0.9" stroke="#9900cc" stroke-width="11.8" stroke-linecap="round"/>
</g>
<g transform="translate(560.6,111.6) scale(1,1.15)">
<line x1="-0.1" y1="-0.9" x2="0.1" y2="0.9" stroke="#9900cc" stroke-width="11.8" stroke-linecap="round"/>
</g>
<g transform="translate(562.7,143.4) scale(1,1.15)">
<line x1="-0.1" y1="-0.9" x2="0.1" y2="0.9" stroke="#9900cc" stroke-width="11.8" stroke-linecap="round"/>
</g>
<g transform="translate(564.9,176.6) scale(1,1.15)">
<line x1="-0.0" y1="-0.9" x2="0.0" y2="0.9" stroke="#9900cc" stroke-width="11.8" stroke-linecap="round"/>
</g>
<g transform="translate(564.9,208.3) scale(1,1.15)">
<line x1="0.0" y1="-0.9" x2="-0.0" y2="0.9" stroke="#9900cc" stroke-width="11.8" stroke-linecap="round"/>
</g>
<g transform="translate(563.6,241.3) scale(1,1.15)">
<line x1="0.1" y1="-0.9" x2="-0.1" y2="0.9" stroke="#9900cc" stroke-width="11.8" stroke-linecap="round"/>
</g>
<g transform="translate(560.6,273.0) scale(1,1.15)">
<line x1="0.1" y1="-0.9" x2="-0.1" y2="0.9" stroke="#9900cc" stroke-width="11.8" stroke-linecap="round"/>
</g>
<g transform="translate(557.5,305.6) scale(1,1.15)">
<line x1="0.1" y1="-0.9" x2="-0.1" y2="0.9" stroke="#9900cc" stroke-width="11.8" stroke-linecap="round"/>
</g>
<g transform="translate(552.5,337.6) scale(1,1.15)">
<line x1="0.2" y1="-0.9" x2="-0.2" y2="0.9" stroke="#9900cc" stroke-width="11.8" stroke-linecap="round"/>
</g>
<g transform="translate(545.7,369.5) scale(1,1.15)">
<line x1="0.3" y1="-0.9" x2="-0.3" y2="0.9" stroke="#9900cc" stroke-width="11.8" stroke-linecap="round"/>
</g>
<g transform="translate(537.5,400.8) scale(1,1.15)">
<line x1="0.3" y1="-0.9" x2="-0.3" y2="0.9" stroke="#9900cc" stroke-width="11.8" stroke-linecap="round"/>
</g>
<g transform="translate(729.3,108.4) scale(1,1.15)">
<line x1="-0.4" y1="-0.9" x2="0.4" y2="0.9" stroke="#9900cc" stroke-width="11.8" stroke-linecap="round"/>
</g>
<g transform="translate(742.0,137.7) scale(1,1.15)">
<line x1="-0.4" y1="-0.9" x2="0.4" y2="0.9" stroke="#9900cc" stroke-width="11.8" stroke-linecap="round"/>
</g>
<g transform="translate(752.9,168.1) scale(1,1.15)">
<line x1="-0.3" y1="-0.9" x2="0.3" y2="0.9" stroke="#9900cc" stroke-width="11.8" stroke-linecap="round"/>
</g>
<g transform="translate(759.1,199.3) scale(1,1.15)">
<line x1="-0.2" y1="-0.9" x2="0.2" y2="0.9" stroke="#9900cc" stroke-width="11.8" stroke-linecap="round"/>
</g>
<g transform="translate(765.1,230.7) scale(1,1.15)">
<line x1="-0.2" y1="-0.9" x2="0.2" y2="0.9" stroke="#9900cc" stroke-width="11.8" stroke-linecap="round"/>
</g>
<g transform="translate(770.5,262.5) scale(1,1.15)">
<line x1="-0.2" y1="-0.9" x2="0.2" y2="0.9" stroke="#9900cc" stroke-width="11.8" stroke-linecap="round"/>
</g>
<g transform="translate(775.7,294.7) scale(1,1.15)">
<line x1="-0.1" y1="-0.9" x2="0.1" y2="0.9" stroke="#9900cc" stroke-width="11.8" stroke-linecap="round"/>
</g>
<g transform="translate(777.8,326.7) scale(1,1.15)">
<line x1="-0.0" y1="-0.9" x2="0.0" y2="0.9" stroke="#9900cc" stroke-width="11.8" stroke-linecap="round"/>
</g>
<g transform="translate(778.3,358.8) scale(1,1.15)">
<line x1="-0.0" y1="-0.9" x2="0.0" y2="0.9" stroke="#9900cc" stroke-width="11.8" stroke-linecap="round"/>
</g>
<g transform="translate(778.3,391.8) scale(1,1.15)">
<line x1="-0.0" y1="-0.9" x2="0.0" y2="0.9" stroke="#9900cc" stroke-width="11.8" stroke-linecap="round"/>
</g>
<g transform="translate(779.9,423.2) scale(1,1.15)">
<line x1="-0.1" y1="-0.9" x2="0.1" y2="0.9" stroke="#9900cc" stroke-width="11.8" stroke-linecap="round"/>
</g>
<g transform="translate(912.9,119.3) scale(1,1.15)">
<line x1="-0.3" y1="-0.9" x2="0.3" y2="0.9" stroke="#9900cc" stroke-width="11.8" stroke-linecap="round"/>
</g>
<g transform="translate(921.6,150.5) scale(1,1.15)">
<line x1="-0.3" y1="-0.9" x2="0.3" y2="0.9" stroke="#9900cc" stroke-width="11.8" stroke-linecap="round"/>
</g>
<g transform="translate(932.4,180.3) scale(1,1.15)">
<line x1="-0.4" y1="-0.9" x2="0.4" y2="0.9" stroke="#9900cc" stroke-width="11.8" stroke-linecap="round"/>
</g>
<g transform="translate(943.0,210.4) scale(1,1.15)">
<line x1="-0.3" y1="-0.9" x2="0.3" y2="0.9" stroke="#9900cc" stroke-width="11.8" stroke-linecap="round"/>
</g>
<g transform="translate(952.2,241.0) scale(1,1.15)">
<line x1="-0.4" y1="-0.9" x2="0.4" y2="0.9" stroke="#9900cc" stroke-width="11.8" stroke-linecap="round"/>
</g>
<g transform="translate(964.4,269.8) scale(1,1.15)">
<line x1="-0.4" y1="-0.9" x2="0.4" y2="0.9" stroke="#9900cc" stroke-width="11.8" stroke-linecap="round"/>
</g>
<g transform="translate(975.3,299.9) scale(1,1.15)">
<line x1="-0.4" y1="-0.9" x2="0.4" y2="0.9" stroke="#9900cc" stroke-width="11.8" stroke-linecap="round"/>
</g>
<g transform="translate(988.4,329.2) scale(1,1.15)">
<line x1="-0.4" y1="-0.9" x2="0.4" y2="0.9" stroke="#9900cc" stroke-width="11.8" stroke-linecap="round"/>
</g>
<g transform="translate(999.7,358.5) scale(1,1.15)">
<line x1="-0.4" y1="-0.9" x2="0.4" y2="0.9" stroke="#9900cc" stroke-width="11.8" stroke-linecap="round"/>
</g>
<g transform="translate(1012.0,387.8) scale(1,1.15)">
<line x1="-0.4" y1="-0.9" x2="0.4" y2="0.9" stroke="#9900cc" stroke-width="11.8" stroke-linecap="round"/>
</g>
<g transform="translate(1142.9,100.6) scale(1,1.15)">
<line x1="-0.3" y1="-0.9" x2="0.3" y2="0.9" stroke="#9900cc" stroke-width="11.8" stroke-linecap="round"/>
</g>
<g transform="translate(1150.7,131.5) scale(1,1.15)">
<line x1="-0.3" y1="-0.9" x2="0.3" y2="0.9" stroke="#9900cc" stroke-width="11.8" stroke-linecap="round"/>
</g>
<g transform="translate(1160.3,161.9) scale(1,1.15)">
<line x1="-0.3" y1="-0.9" x2="0.3" y2="0.9" stroke="#9900cc" stroke-width="11.8" stroke-linecap="round"/>
</g>
<g transform="translate(1168.1,193.3) scale(1,1.15)">
<line x1="-0.3" y1="-0.9" x2="0.3" y2="0.9" stroke="#9900cc" stroke-width="11.8" stroke-linecap="round"/>
</g>
<g transform="translate(1177.1,224.2) scale(1,1.15)">
<line x1="-0.3" y1="-0.9" x2="0.3" y2="0.9" stroke="#9900cc" stroke-width="11.8" stroke-linecap="round"/>
</g>
<g transform="translate(1184.7,255.6) scale(1,1.15)">
<line x1="-0.3" y1="-0.9" x2="0.3" y2="0.9" stroke="#9900cc" stroke-width="11.8" stroke-linecap="round"/>
</g>
<g transform="translate(1192.9,286.9) scale(1,1.15)">
<line x1="-0.3" y1="-0.9" x2="0.3" y2="0.9" stroke="#9900cc" stroke-width="11.8" stroke-linecap="round"/>
</g>
<g transform="translate(1201.5,317.8) scale(1,1.15)">
<line x1="-0.3" y1="-0.9" x2="0.3" y2="0.9" stroke="#9900cc" stroke-width="11.8" stroke-linecap="round"/>
</g>
<g transform="translate(1210.0,348.7) scale(1,1.15)">
<line x1="-0.3" y1="-0.9" x2="0.3" y2="0.9" stroke="#9900cc" stroke-width="11.8" stroke-linecap="round"/>
</g>
<g transform="translate(1220.2,378.8) scale(1,1.15)">
<line x1="-0.3" y1="-0.9" x2="0.3" y2="0.9" stroke="#9900cc" stroke-width="11.8" stroke-linecap="round"/>
</g>
<g transform="translate(1230.0,408.9) scale(1,1.15)">
<line x1="-0.3" y1="-0.9" x2="0.3" y2="0.9" stroke="#9900cc" stroke-width="11.8" stroke-linecap="round"/>
</g>
<g transform="translate(1354.3,102.2) scale(1,1.15)">
<line x1="-0.2" y1="-0.9" x2="0.2" y2="0.9" stroke="#9900cc" stroke-width="11.8" stroke-linecap="round"/>
</g>
<g transform="translate(1360.0,133.9) scale(1,1.15)">
<line x1="-0.2" y1="-0.9" x2="0.2" y2="0.9" stroke="#9900cc" stroke-width="11.8" stroke-linecap="round"/>
</g>
<g transform="translate(1366.5,165.3) scale(1,1.15)">
<line x1="-0.2" y1="-0.9" x2="0.2" y2="0.9" stroke="#9900cc" stroke-width="11.8" stroke-linecap="round"/>
</g>
<g transform="translate(1372.3,197.4) scale(1,1.15)">
<line x1="-0.2" y1="-0.9" x2="0.2" y2="0.9" stroke="#9900cc" stroke-width="11.8" stroke-linecap="round"/>
</g>
<g transform="translate(1377.2,229.4) scale(1,1.15)">
<line x1="-0.2" y1="-0.9" x2="0.2" y2="0.9" stroke="#9900cc" stroke-width="11.8" stroke-linecap="round"/>
</g>
<g transform="translate(1381.6,261.7) scale(1,1.15)">
<line x1="-0.2" y1="-0.9" x2="0.2" y2="0.9" stroke="#9900cc" stroke-width="11.8" stroke-linecap="round"/>
</g>
<g transform="translate(1386.5,293.4) scale(1,1.15)">
<line x1="-0.2" y1="-0.9" x2="0.2" y2="0.9" stroke="#9900cc" stroke-width="11.8" stroke-linecap="round"/>
</g>
<g transform="translate(1392.2,325.4) scale(1,1.15)">
<line x1="-0.1" y1="-0.9" x2="0.1" y2="0.9" stroke="#9900cc" stroke-width="11.8" stroke-linecap="round"/>
</g>
<g transform="translate(1395.1,357.7) scale(1,1.15)">
<line x1="-0.1" y1="-0.9" x2="0.1" y2="0.9" stroke="#9900cc" stroke-width="11.8" stroke-linecap="round"/>
</g>
<g transform="translate(1397.5,389.9) scale(1,1.15)">
<line x1="-0.1" y1="-0.9" x2="0.1" y2="0.9" stroke="#9900cc" stroke-width="11.8" stroke-linecap="round"/>
</g>
<g transform="translate(1400.3,422.4) scale(1,1.15)">
<line x1="-0.1" y1="-0.9" x2="0.1" y2="0.9" stroke="#9900cc" stroke-width="11.8" stroke-linecap="round"/>
</g>
<g transform="translate(192.3,120.9) scale(1,1.15)">
<line x1="0.4" y1="-6.5" x2="-0.4" y2="6.5" stroke="#006633" stroke-width="11.4" stroke-linecap="butt"/>
</g>
<g transform="translate(190.6,150.2) scale(1,1.15)">
<line x1="0.5" y1="-6.5" x2="-0.5" y2="6.5" stroke="#006633" stroke-width="11.4" stroke-linecap="butt"/>
</g>
<g transform="translate(188.2,179.5) scale(1,1.15)">
<line x1="0.5" y1="-6.5" x2="-0.5" y2="6.5" stroke="#006633" stroke-width="11.4" stroke-linecap="butt"/>
</g>
<g transform="translate(186.6,208.5) scale(1,1.15)">
<line x1="0.5" y1="-6.5" x2="-0.5" y2="6.5" stroke="#006633" stroke-width="11.4" stroke-linecap="butt"/>
</g>
<g transform="translate(184.1,237.3) scale(1,1.15)">
<line x1="0.6" y1="-6.5" x2="-0.6" y2="6.5" stroke="#006633" stroke-width="11.4" stroke-linecap="butt"/>
</g>
<g transform="translate(181.7,266.5) scale(1,1.15)">
<line x1="0.7" y1="-6.5" x2="-0.7" y2="6.5" stroke="#006633" stroke-width="11.4" stroke-linecap="butt"/>
</g>
<g transform="translate(178.4,295.8) scale(1,1.15)">
<line x1="0.7" y1="-6.5" x2="-0.7" y2="6.5" stroke="#006633" stroke-width="11.4" stroke-linecap="butt"/>
</g>
<g transform="translate(176.0,324.3) scale(1,1.15)">
<line x1="0.8" y1="-6.4" x2="-0.8" y2="6.4" stroke="#006633" stroke-width="11.4" stroke-linecap="butt"/>
</g>
<g transform="translate(171.9,353.6) scale(1,1.15)">
<line x1="1.0" y1="-6.4" x2="-1.0" y2="6.4" stroke="#006633" stroke-width="11.4" stroke-linecap="butt"/>
</g>
<g transform="translate(167.9,382.0) scale(1,1.15)">
<line x1="1.0" y1="-6.4" x2="-1.0" y2="6.4" stroke="#006633" stroke-width="11.4" stroke-linecap="butt"/>
</g>
<rect x="93.2" y="538.4" width="1588.5" height="86.9" fill="none" stroke="#6a6a6a" stroke-width="1.2"/>
<ellipse cx="133.7" cy="583.0" rx="5.8" ry="6.6" fill="#000"/>
<text x="170.7" y="592.9" font-family='"Liberation Sans", Arial, sans-serif' font-size="27.5" font-weight="bold" text-anchor="start" fill="#000" textLength="212.0" lengthAdjust="spacingAndGlyphs">2-D ideal fluid flow</text>
<ellipse cx="396.2" cy="583.0" rx="5.5" ry="6.0" fill="#9900cc"/>
<ellipse cx="414.5" cy="583.0" rx="5.5" ry="6.0" fill="#9900cc"/>
<text x="446.7" y="592.9" font-family='"Liberation Sans", Arial, sans-serif' font-size="27.5" font-weight="bold" text-anchor="start" fill="#000" textLength="566.0" lengthAdjust="spacingAndGlyphs">third order velocity profile (Orgaz and Hager 2013)</text>
<rect x="1030.8" y="576.3" width="12.8" height="13.4" fill="#006633"/>
<text x="1073.0" y="592.9" font-family='"Liberation Sans", Arial, sans-serif' font-size="27.5" font-weight="bold" text-anchor="start" fill="#000" textLength="591.5" lengthAdjust="spacingAndGlyphs">second order velocity profile (Orgaz and Hager 2013)</text>
<text x="827.0" y="671.8" font-family='"Liberation Serif", "Times New Roman", serif' font-size="45" font-weight="normal" text-anchor="start" fill="#000" textLength="55.6" lengthAdjust="spacingAndGlyphs">(<tspan font-weight="bold">b</tspan>)</text>
<text x="143.5" y="718.7" font-family='"Liberation Serif", "Times New Roman", serif' font-size="31" font-weight="bold" text-anchor="start" fill="#000" textLength="98.5" lengthAdjust="spacingAndGlyphs">x=-0.4m</text>
<line x1="81.3" y1="736.5" x2="304.2" y2="736.5" stroke="#222" stroke-width="1.4" stroke-linecap="butt"/>
<line x1="80.3" y1="1098.8" x2="305.2" y2="1098.8" stroke="#000" stroke-width="3.6" stroke-linecap="butt"/>
<line x1="81.3" y1="1098.8" x2="81.3" y2="1108.8" stroke="#000" stroke-width="2.4" stroke-linecap="butt"/>
<text x="81.3" y="1143.8" font-family='"Liberation Sans", Arial, sans-serif' font-size="24" font-weight="bold" text-anchor="middle" fill="#000" textLength="49.6" lengthAdjust="spacingAndGlyphs">-0.15</text>
<line x1="147.9" y1="1098.8" x2="147.9" y2="1108.8" stroke="#000" stroke-width="2.4" stroke-linecap="butt"/>
<text x="147.9" y="1143.8" font-family='"Liberation Sans", Arial, sans-serif' font-size="24" font-weight="bold" text-anchor="middle" fill="#000" textLength="49.6" lengthAdjust="spacingAndGlyphs">-0.05</text>
<line x1="215.9" y1="1098.8" x2="215.9" y2="1108.8" stroke="#000" stroke-width="2.4" stroke-linecap="butt"/>
<text x="215.9" y="1143.8" font-family='"Liberation Sans", Arial, sans-serif' font-size="24" font-weight="bold" text-anchor="middle" fill="#000" textLength="42.4" lengthAdjust="spacingAndGlyphs">0.05</text>
<line x1="283.0" y1="1098.8" x2="283.0" y2="1108.8" stroke="#000" stroke-width="2.4" stroke-linecap="butt"/>
<text x="283.0" y="1143.8" font-family='"Liberation Sans", Arial, sans-serif' font-size="24" font-weight="bold" text-anchor="middle" fill="#000" textLength="42.4" lengthAdjust="spacingAndGlyphs">0.15</text>
<text x="369.0" y="718.7" font-family='"Liberation Serif", "Times New Roman", serif' font-size="31" font-weight="bold" text-anchor="start" fill="#000" textLength="99.5" lengthAdjust="spacingAndGlyphs">x=-0.3m</text>
<line x1="304.2" y1="736.5" x2="533.5" y2="736.5" stroke="#111" stroke-width="1.8" stroke-linecap="butt"/>
<line x1="304.2" y1="735.6" x2="304.2" y2="1099.8" stroke="#000" stroke-width="2.3" stroke-linecap="butt"/>
<line x1="533.5" y1="735.6" x2="533.5" y2="1099.8" stroke="#000" stroke-width="2.3" stroke-linecap="butt"/>
<line x1="303.2" y1="1098.8" x2="534.5" y2="1098.8" stroke="#000" stroke-width="3.6" stroke-linecap="butt"/>
<line x1="331.2" y1="1101.8" x2="331.2" y2="1108.8" stroke="#999" stroke-width="1.0" stroke-linecap="butt"/>
<text x="331.2" y="1143.8" font-family='"Liberation Sans", Arial, sans-serif' font-size="24" font-weight="bold" text-anchor="middle" fill="#000" textLength="37.5" lengthAdjust="spacingAndGlyphs">-0.1</text>
<line x1="384.5" y1="1101.8" x2="384.5" y2="1108.8" stroke="#999" stroke-width="1.0" stroke-linecap="butt"/>
<text x="384.5" y="1143.8" font-family='"Liberation Sans", Arial, sans-serif' font-size="24" font-weight="bold" text-anchor="middle" fill="#000" textLength="12.1" lengthAdjust="spacingAndGlyphs">0</text>
<line x1="437.7" y1="1101.8" x2="437.7" y2="1108.8" stroke="#999" stroke-width="1.0" stroke-linecap="butt"/>
<text x="437.7" y="1143.8" font-family='"Liberation Sans", Arial, sans-serif' font-size="24" font-weight="bold" text-anchor="middle" fill="#000" textLength="30.3" lengthAdjust="spacingAndGlyphs">0.1</text>
<line x1="491.0" y1="1101.8" x2="491.0" y2="1108.8" stroke="#999" stroke-width="1.0" stroke-linecap="butt"/>
<text x="491.0" y="1143.8" font-family='"Liberation Sans", Arial, sans-serif' font-size="24" font-weight="bold" text-anchor="middle" fill="#000" textLength="30.3" lengthAdjust="spacingAndGlyphs">0.2</text>
<text x="600.0" y="718.7" font-family='"Liberation Serif", "Times New Roman", serif' font-size="31" font-weight="bold" text-anchor="start" fill="#000" textLength="99.0" lengthAdjust="spacingAndGlyphs">x=-0.2m</text>
<line x1="534.0" y1="736.5" x2="763.5" y2="736.5" stroke="#111" stroke-width="1.8" stroke-linecap="butt"/>
<line x1="534.0" y1="735.6" x2="534.0" y2="1099.8" stroke="#000" stroke-width="2.3" stroke-linecap="butt"/>
<line x1="763.5" y1="735.6" x2="763.5" y2="1099.8" stroke="#000" stroke-width="2.3" stroke-linecap="butt"/>
<line x1="533.0" y1="1098.8" x2="764.5" y2="1098.8" stroke="#000" stroke-width="3.6" stroke-linecap="butt"/>
<line x1="554.5" y1="1098.8" x2="554.5" y2="1108.8" stroke="#000" stroke-width="2.4" stroke-linecap="butt"/>
<text x="554.5" y="1143.8" font-family='"Liberation Sans", Arial, sans-serif' font-size="24" font-weight="bold" text-anchor="middle" fill="#000" textLength="37.5" lengthAdjust="spacingAndGlyphs">-0.1</text>
<line x1="598.4" y1="1098.8" x2="598.4" y2="1108.8" stroke="#000" stroke-width="2.4" stroke-linecap="butt"/>
<text x="598.4" y="1143.8" font-family='"Liberation Sans", Arial, sans-serif' font-size="24" font-weight="bold" text-anchor="middle" fill="#000" textLength="12.1" lengthAdjust="spacingAndGlyphs">0</text>
<line x1="642.2" y1="1098.8" x2="642.2" y2="1108.8" stroke="#000" stroke-width="2.4" stroke-linecap="butt"/>
<text x="642.2" y="1143.8" font-family='"Liberation Sans", Arial, sans-serif' font-size="24" font-weight="bold" text-anchor="middle" fill="#000" textLength="30.3" lengthAdjust="spacingAndGlyphs">0.1</text>
<line x1="684.8" y1="1098.8" x2="684.8" y2="1108.8" stroke="#000" stroke-width="2.4" stroke-linecap="butt"/>
<text x="684.8" y="1143.8" font-family='"Liberation Sans", Arial, sans-serif' font-size="24" font-weight="bold" text-anchor="middle" fill="#000" textLength="30.3" lengthAdjust="spacingAndGlyphs">0.2</text>
<line x1="728.7" y1="1098.8" x2="728.7" y2="1108.8" stroke="#000" stroke-width="2.4" stroke-linecap="butt"/>
<text x="728.7" y="1143.8" font-family='"Liberation Sans", Arial, sans-serif' font-size="24" font-weight="bold" text-anchor="middle" fill="#000" textLength="30.3" lengthAdjust="spacingAndGlyphs">0.3</text>
<text x="824.5" y="718.7" font-family='"Liberation Serif", "Times New Roman", serif' font-size="31" font-weight="bold" text-anchor="start" fill="#000" textLength="98.5" lengthAdjust="spacingAndGlyphs">x=-0.1m</text>
<line x1="764.8" y1="736.5" x2="993.6" y2="736.5" stroke="#111" stroke-width="1.8" stroke-linecap="butt"/>
<line x1="764.8" y1="735.6" x2="764.8" y2="1099.8" stroke="#000" stroke-width="2.3" stroke-linecap="butt"/>
<line x1="993.6" y1="735.6" x2="993.6" y2="1099.8" stroke="#000" stroke-width="2.3" stroke-linecap="butt"/>
<line x1="763.8" y1="1098.8" x2="994.6" y2="1098.8" stroke="#000" stroke-width="3.6" stroke-linecap="butt"/>
<line x1="786.3" y1="1098.8" x2="786.3" y2="1108.8" stroke="#000" stroke-width="2.4" stroke-linecap="butt"/>
<text x="786.3" y="1143.8" font-family='"Liberation Sans", Arial, sans-serif' font-size="24" font-weight="bold" text-anchor="middle" fill="#000" textLength="37.5" lengthAdjust="spacingAndGlyphs">-0.1</text>
<line x1="829.3" y1="1098.8" x2="829.3" y2="1108.8" stroke="#000" stroke-width="2.4" stroke-linecap="butt"/>
<text x="829.3" y="1143.8" font-family='"Liberation Sans", Arial, sans-serif' font-size="24" font-weight="bold" text-anchor="middle" fill="#000" textLength="12.1" lengthAdjust="spacingAndGlyphs">0</text>
<line x1="872.2" y1="1098.8" x2="872.2" y2="1108.8" stroke="#000" stroke-width="2.4" stroke-linecap="butt"/>
<text x="872.2" y="1143.8" font-family='"Liberation Sans", Arial, sans-serif' font-size="24" font-weight="bold" text-anchor="middle" fill="#000" textLength="30.3" lengthAdjust="spacingAndGlyphs">0.1</text>
<line x1="915.2" y1="1098.8" x2="915.2" y2="1108.8" stroke="#000" stroke-width="2.4" stroke-linecap="butt"/>
<text x="915.2" y="1143.8" font-family='"Liberation Sans", Arial, sans-serif' font-size="24" font-weight="bold" text-anchor="middle" fill="#000" textLength="30.3" lengthAdjust="spacingAndGlyphs">0.2</text>
<line x1="958.7" y1="1098.8" x2="958.7" y2="1108.8" stroke="#000" stroke-width="2.4" stroke-linecap="butt"/>
<text x="958.7" y="1143.8" font-family='"Liberation Sans", Arial, sans-serif' font-size="24" font-weight="bold" text-anchor="middle" fill="#000" textLength="30.3" lengthAdjust="spacingAndGlyphs">0.3</text>
<text x="1076.5" y="718.7" font-family='"Liberation Serif", "Times New Roman", serif' font-size="31" font-weight="bold" text-anchor="start" fill="#000" textLength="67.5" lengthAdjust="spacingAndGlyphs">x=0m</text>
<line x1="994.8" y1="736.5" x2="1221.2" y2="736.5" stroke="#111" stroke-width="1.8" stroke-linecap="butt"/>
<line x1="994.8" y1="735.6" x2="994.8" y2="1099.8" stroke="#000" stroke-width="2.3" stroke-linecap="butt"/>
<line x1="1221.2" y1="735.6" x2="1221.2" y2="1099.8" stroke="#000" stroke-width="2.3" stroke-linecap="butt"/>
<line x1="993.8" y1="1098.8" x2="1222.2" y2="1098.8" stroke="#000" stroke-width="3.6" stroke-linecap="butt"/>
<line x1="1017.2" y1="1098.8" x2="1017.2" y2="1108.8" stroke="#000" stroke-width="2.4" stroke-linecap="butt"/>
<text x="1017.2" y="1143.8" font-family='"Liberation Sans", Arial, sans-serif' font-size="24" font-weight="bold" text-anchor="middle" fill="#000" textLength="49.6" lengthAdjust="spacingAndGlyphs">-0.35</text>
<line x1="1085.6" y1="1098.8" x2="1085.6" y2="1108.8" stroke="#000" stroke-width="2.4" stroke-linecap="butt"/>
<text x="1085.6" y="1143.8" font-family='"Liberation Sans", Arial, sans-serif' font-size="24" font-weight="bold" text-anchor="middle" fill="#000" textLength="37.5" lengthAdjust="spacingAndGlyphs">-0.2</text>
<line x1="1153.6" y1="1098.8" x2="1153.6" y2="1108.8" stroke="#000" stroke-width="2.4" stroke-linecap="butt"/>
<text x="1153.6" y="1143.8" font-family='"Liberation Sans", Arial, sans-serif' font-size="24" font-weight="bold" text-anchor="middle" fill="#000" textLength="49.6" lengthAdjust="spacingAndGlyphs">-0.05</text>
<line x1="1221.2" y1="1098.8" x2="1221.2" y2="1108.8" stroke="#000" stroke-width="2.4" stroke-linecap="butt"/>
<text x="1221.2" y="1143.8" font-family='"Liberation Sans", Arial, sans-serif' font-size="24" font-weight="bold" text-anchor="middle" fill="#000" textLength="30.3" lengthAdjust="spacingAndGlyphs">0.1</text>
<text x="1284.5" y="717.7" font-family='"Liberation Serif", "Times New Roman", serif' font-size="31" font-weight="bold" text-anchor="start" fill="#000" textLength="90.0" lengthAdjust="spacingAndGlyphs">x=0.1m</text>
<line x1="1221.8" y1="736.5" x2="1447.4" y2="736.5" stroke="#111" stroke-width="1.8" stroke-linecap="butt"/>
<line x1="1221.8" y1="735.6" x2="1221.8" y2="1099.8" stroke="#000" stroke-width="2.3" stroke-linecap="butt"/>
<line x1="1447.4" y1="735.6" x2="1447.4" y2="1099.8" stroke="#000" stroke-width="2.3" stroke-linecap="butt"/>
<line x1="1220.8" y1="1098.8" x2="1448.4" y2="1098.8" stroke="#000" stroke-width="3.6" stroke-linecap="butt"/>
<line x1="1300.4" y1="1098.8" x2="1300.4" y2="1108.8" stroke="#000" stroke-width="2.4" stroke-linecap="butt"/>
<text x="1300.4" y="1143.8" font-family='"Liberation Sans", Arial, sans-serif' font-size="24" font-weight="bold" text-anchor="middle" fill="#000" textLength="49.6" lengthAdjust="spacingAndGlyphs">-0.55</text>
<line x1="1388.1" y1="1098.8" x2="1388.1" y2="1108.8" stroke="#000" stroke-width="2.4" stroke-linecap="butt"/>
<text x="1388.1" y="1143.8" font-family='"Liberation Sans", Arial, sans-serif' font-size="24" font-weight="bold" text-anchor="middle" fill="#000" textLength="49.6" lengthAdjust="spacingAndGlyphs">-0.45</text>
<text x="1510.5" y="717.2" font-family='"Liberation Serif", "Times New Roman", serif' font-size="31" font-weight="bold" text-anchor="start" fill="#000" textLength="90.0" lengthAdjust="spacingAndGlyphs">x=0.2m</text>
<line x1="1448.2" y1="736.5" x2="1674.5" y2="736.5" stroke="#111" stroke-width="1.8" stroke-linecap="butt"/>
<line x1="1448.2" y1="735.6" x2="1448.2" y2="1099.8" stroke="#000" stroke-width="2.3" stroke-linecap="butt"/>
<line x1="1674.5" y1="735.6" x2="1674.5" y2="1099.8" stroke="#333" stroke-width="1.3" stroke-linecap="butt"/>
<line x1="1447.2" y1="1098.8" x2="1675.5" y2="1098.8" stroke="#000" stroke-width="3.6" stroke-linecap="butt"/>
<line x1="1478.1" y1="1101.8" x2="1478.1" y2="1108.8" stroke="#999" stroke-width="1.0" stroke-linecap="butt"/>
<text x="1478.1" y="1143.8" font-family='"Liberation Sans", Arial, sans-serif' font-size="24" font-weight="bold" text-anchor="middle" fill="#000" textLength="37.5" lengthAdjust="spacingAndGlyphs">-0.9</text>
<line x1="1536.7" y1="1101.8" x2="1536.7" y2="1108.8" stroke="#999" stroke-width="1.0" stroke-linecap="butt"/>
<text x="1536.7" y="1143.8" font-family='"Liberation Sans", Arial, sans-serif' font-size="24" font-weight="bold" text-anchor="middle" fill="#000" textLength="37.5" lengthAdjust="spacingAndGlyphs">-0.8</text>
<line x1="1595.4" y1="1101.8" x2="1595.4" y2="1108.8" stroke="#999" stroke-width="1.0" stroke-linecap="butt"/>
<text x="1595.4" y="1143.8" font-family='"Liberation Sans", Arial, sans-serif' font-size="24" font-weight="bold" text-anchor="middle" fill="#000" textLength="37.5" lengthAdjust="spacingAndGlyphs">-0.7</text>
<line x1="1653.5" y1="1101.8" x2="1653.5" y2="1108.8" stroke="#999" stroke-width="1.0" stroke-linecap="butt"/>
<text x="1653.5" y="1143.8" font-family='"Liberation Sans", Arial, sans-serif' font-size="24" font-weight="bold" text-anchor="middle" fill="#000" textLength="37.5" lengthAdjust="spacingAndGlyphs">-0.6</text>
<line x1="80.6" y1="735.8" x2="80.6" y2="1110.0" stroke="#000" stroke-width="2.8" stroke-linecap="butt"/>
<line x1="80.6" y1="754.3" x2="85.5" y2="754.3" stroke="#000" stroke-width="2.2" stroke-linecap="butt"/>
<line x1="80.6" y1="790.5" x2="85.5" y2="790.5" stroke="#000" stroke-width="2.2" stroke-linecap="butt"/>
<line x1="80.6" y1="826.6" x2="85.5" y2="826.6" stroke="#000" stroke-width="2.2" stroke-linecap="butt"/>
<line x1="80.6" y1="862.8" x2="85.5" y2="862.8" stroke="#000" stroke-width="2.2" stroke-linecap="butt"/>
<line x1="80.6" y1="899.0" x2="85.5" y2="899.0" stroke="#000" stroke-width="2.2" stroke-linecap="butt"/>
<line x1="80.6" y1="935.1" x2="85.5" y2="935.1" stroke="#000" stroke-width="2.2" stroke-linecap="butt"/>
<line x1="80.6" y1="971.3" x2="85.5" y2="971.3" stroke="#000" stroke-width="2.2" stroke-linecap="butt"/>
<line x1="80.6" y1="1007.5" x2="85.5" y2="1007.5" stroke="#000" stroke-width="2.2" stroke-linecap="butt"/>
<line x1="80.6" y1="1043.7" x2="85.5" y2="1043.7" stroke="#000" stroke-width="2.2" stroke-linecap="butt"/>
<line x1="80.6" y1="1079.8" x2="85.5" y2="1079.8" stroke="#000" stroke-width="2.2" stroke-linecap="butt"/>
<text x="71.1" y="1107.0" font-family='"Liberation Sans", Arial, sans-serif' font-size="23.7" font-weight="bold" text-anchor="end" fill="#000" textLength="11.9" lengthAdjust="spacingAndGlyphs">0</text>
<text x="71.1" y="1070.8" font-family='"Liberation Sans", Arial, sans-serif' font-size="23.7" font-weight="bold" text-anchor="end" fill="#000" textLength="29.6" lengthAdjust="spacingAndGlyphs">0.1</text>
<text x="71.1" y="1034.7" font-family='"Liberation Sans", Arial, sans-serif' font-size="23.7" font-weight="bold" text-anchor="end" fill="#000" textLength="29.6" lengthAdjust="spacingAndGlyphs">0.2</text>
<text x="71.1" y="998.5" font-family='"Liberation Sans", Arial, sans-serif' font-size="23.7" font-weight="bold" text-anchor="end" fill="#000" textLength="29.6" lengthAdjust="spacingAndGlyphs">0.3</text>
<text x="71.1" y="962.3" font-family='"Liberation Sans", Arial, sans-serif' font-size="23.7" font-weight="bold" text-anchor="end" fill="#000" textLength="29.6" lengthAdjust="spacingAndGlyphs">0.4</text>
<text x="71.1" y="926.1" font-family='"Liberation Sans", Arial, sans-serif' font-size="23.7" font-weight="bold" text-anchor="end" fill="#000" textLength="29.6" lengthAdjust="spacingAndGlyphs">0.5</text>
<text x="71.1" y="890.0" font-family='"Liberation Sans", Arial, sans-serif' font-size="23.7" font-weight="bold" text-anchor="end" fill="#000" textLength="29.6" lengthAdjust="spacingAndGlyphs">0.6</text>
<text x="71.1" y="853.8" font-family='"Liberation Sans", Arial, sans-serif' font-size="23.7" font-weight="bold" text-anchor="end" fill="#000" textLength="29.6" lengthAdjust="spacingAndGlyphs">0.7</text>
<text x="71.1" y="817.6" font-family='"Liberation Sans", Arial, sans-serif' font-size="23.7" font-weight="bold" text-anchor="end" fill="#000" textLength="29.6" lengthAdjust="spacingAndGlyphs">0.8</text>
<text x="71.1" y="781.5" font-family='"Liberation Sans", Arial, sans-serif' font-size="23.7" font-weight="bold" text-anchor="end" fill="#000" textLength="29.6" lengthAdjust="spacingAndGlyphs">0.9</text>
<text x="71.1" y="745.3" font-family='"Liberation Sans", Arial, sans-serif' font-size="23.7" font-weight="bold" text-anchor="end" fill="#000" textLength="11.9" lengthAdjust="spacingAndGlyphs">1</text>
<text x="0.0" y="0.0" font-family='"Liberation Serif", "Times New Roman", serif' font-size="29" font-weight="bold" text-anchor="middle" fill="#000" textLength="52.0" lengthAdjust="spacingAndGlyphs" transform="translate(31.0,916.5) rotate(-90)">η/y</text>
<text x="0.0" y="0.0" font-family='"Liberation Serif", "Times New Roman", serif' font-size="56" font-weight="normal" text-anchor="start" fill="#000" transform="translate(806.1,1205.3) scale(1,1.4)">→</text>
<text x="852.0" y="1201.7" font-family='"Liberation Sans", Arial, sans-serif' font-size="34.5" font-weight="bold" text-anchor="start" fill="#000" textLength="52.2" lengthAdjust="spacingAndGlyphs">v/U</text>
<text x="907.3" y="1211.0" font-family='"Liberation Sans", Arial, sans-serif' font-size="20" font-weight="bold" text-anchor="start" fill="#000" textLength="7.9" lengthAdjust="spacingAndGlyphs">c</text>
<clipPath id="clipB2"><rect x="300" y="700" width="240" height="390.5"/></clipPath>
<ellipse cx="182.8" cy="752.7" rx="6.5" ry="7.5" fill="#000"/>
<ellipse cx="191.7" cy="785.9" rx="6.5" ry="7.5" fill="#000"/>
<ellipse cx="200.3" cy="819.0" rx="6.5" ry="7.5" fill="#000"/>
<ellipse cx="208.7" cy="852.1" rx="6.5" ry="7.5" fill="#000"/>
<ellipse cx="217.7" cy="884.3" rx="6.5" ry="7.5" fill="#000"/>
<ellipse cx="225.7" cy="918.0" rx="6.5" ry="7.5" fill="#000"/>
<ellipse cx="233.2" cy="951.4" rx="6.5" ry="7.5" fill="#000"/>
<ellipse cx="240.9" cy="984.2" rx="6.5" ry="7.5" fill="#000"/>
<ellipse cx="246.8" cy="1017.6" rx="6.5" ry="7.5" fill="#000"/>
<ellipse cx="250.8" cy="1051.7" rx="6.5" ry="7.5" fill="#000"/>
<ellipse cx="253.8" cy="1085.7" rx="6.5" ry="7.5" fill="#000"/>
<ellipse cx="580.5" cy="752.7" rx="6.5" ry="7.5" fill="#000"/>
<ellipse cx="591.6" cy="783.2" rx="6.5" ry="7.5" fill="#000"/>
<ellipse cx="602.3" cy="813.6" rx="6.5" ry="7.5" fill="#000"/>
<ellipse cx="613.6" cy="844.0" rx="6.5" ry="7.5" fill="#000"/>
<ellipse cx="623.8" cy="871.8" rx="6.5" ry="7.5" fill="#000"/>
<ellipse cx="634.5" cy="901.3" rx="6.5" ry="7.5" fill="#000"/>
<ellipse cx="645.8" cy="931.7" rx="6.5" ry="7.5" fill="#000"/>
<ellipse cx="657.1" cy="962.2" rx="6.5" ry="7.5" fill="#000"/>
<ellipse cx="668.2" cy="991.7" rx="6.5" ry="7.5" fill="#000"/>
<ellipse cx="679.8" cy="1022.1" rx="6.5" ry="7.5" fill="#000"/>
<ellipse cx="690.6" cy="1051.7" rx="6.5" ry="7.5" fill="#000"/>
<ellipse cx="696.8" cy="1081.0" rx="6.5" ry="7.5" fill="#000"/>
<ellipse cx="794.7" cy="750.1" rx="6.5" ry="7.5" fill="#000"/>
<ellipse cx="801.9" cy="780.5" rx="6.5" ry="7.5" fill="#000"/>
<ellipse cx="810.1" cy="810.0" rx="6.5" ry="7.5" fill="#000"/>
<ellipse cx="818.9" cy="838.7" rx="6.5" ry="7.5" fill="#000"/>
<ellipse cx="828.4" cy="866.4" rx="6.5" ry="7.5" fill="#000"/>
<ellipse cx="838.8" cy="893.2" rx="6.5" ry="7.5" fill="#000"/>
<ellipse cx="849.5" cy="921.0" rx="6.5" ry="7.5" fill="#000"/>
<ellipse cx="861.5" cy="948.7" rx="6.5" ry="7.5" fill="#000"/>
<ellipse cx="873.5" cy="976.5" rx="6.5" ry="7.5" fill="#000"/>
<ellipse cx="886.6" cy="1003.3" rx="6.5" ry="7.5" fill="#000"/>
<ellipse cx="899.1" cy="1029.3" rx="6.5" ry="7.5" fill="#000"/>
<ellipse cx="913.4" cy="1053.4" rx="6.5" ry="7.5" fill="#000"/>
<ellipse cx="928.6" cy="1078.5" rx="6.5" ry="7.5" fill="#000"/>
<ellipse cx="1072.7" cy="751.8" rx="6.5" ry="7.5" fill="#000"/>
<ellipse cx="1079.0" cy="782.3" rx="6.5" ry="7.5" fill="#000"/>
<ellipse cx="1083.4" cy="813.6" rx="6.5" ry="7.5" fill="#000"/>
<ellipse cx="1090.6" cy="844.9" rx="6.5" ry="7.5" fill="#000"/>
<ellipse cx="1098.1" cy="876.2" rx="6.5" ry="7.5" fill="#000"/>
<ellipse cx="1105.3" cy="907.6" rx="6.5" ry="7.5" fill="#000"/>
<ellipse cx="1113.9" cy="938.9" rx="6.5" ry="7.5" fill="#000"/>
<ellipse cx="1122.5" cy="969.9" rx="6.5" ry="7.5" fill="#000"/>
<ellipse cx="1131.4" cy="1000.6" rx="6.5" ry="7.5" fill="#000"/>
<ellipse cx="1141.1" cy="1031.1" rx="6.5" ry="7.5" fill="#000"/>
<ellipse cx="1151.8" cy="1060.6" rx="6.5" ry="7.5" fill="#000"/>
<ellipse cx="1163.4" cy="1090.1" rx="6.5" ry="7.5" fill="#000"/>
<ellipse cx="1349.2" cy="752.7" rx="6.5" ry="7.5" fill="#000"/>
<ellipse cx="1345.1" cy="785.5" rx="6.5" ry="7.5" fill="#000"/>
<ellipse cx="1346.0" cy="817.2" rx="6.5" ry="7.5" fill="#000"/>
<ellipse cx="1343.9" cy="849.4" rx="6.5" ry="7.5" fill="#000"/>
<ellipse cx="1341.6" cy="880.7" rx="6.5" ry="7.5" fill="#000"/>
<ellipse cx="1340.3" cy="912.9" rx="6.5" ry="7.5" fill="#000"/>
<ellipse cx="1339.8" cy="946.0" rx="6.5" ry="7.5" fill="#000"/>
<ellipse cx="1340.1" cy="978.3" rx="6.5" ry="7.5" fill="#000"/>
<ellipse cx="1340.1" cy="1011.0" rx="6.5" ry="7.5" fill="#000"/>
<ellipse cx="1340.1" cy="1042.7" rx="6.5" ry="7.5" fill="#000"/>
<ellipse cx="1340.1" cy="1075.8" rx="6.5" ry="7.5" fill="#000"/>
<ellipse cx="1563.9" cy="751.8" rx="6.5" ry="7.5" fill="#000"/>
<ellipse cx="1564.9" cy="784.6" rx="6.5" ry="7.5" fill="#000"/>
<ellipse cx="1565.6" cy="817.2" rx="6.5" ry="7.5" fill="#000"/>
<ellipse cx="1565.3" cy="849.4" rx="6.5" ry="7.5" fill="#000"/>
<ellipse cx="1563.5" cy="880.7" rx="6.5" ry="7.5" fill="#000"/>
<ellipse cx="1565.3" cy="912.0" rx="6.5" ry="7.5" fill="#000"/>
<ellipse cx="1565.3" cy="944.3" rx="6.5" ry="7.5" fill="#000"/>
<ellipse cx="1561.4" cy="978.3" rx="6.5" ry="7.5" fill="#000"/>
<ellipse cx="1563.1" cy="1010.5" rx="6.5" ry="7.5" fill="#000"/>
<ellipse cx="1563.5" cy="1042.7" rx="6.5" ry="7.5" fill="#000"/>
<ellipse cx="1563.5" cy="1074.9" rx="6.5" ry="7.5" fill="#000"/>
<g clip-path="url(#clipB2)">
<ellipse cx="376.8" cy="751.8" rx="6.5" ry="7.5" fill="#000"/>
<ellipse cx="386.6" cy="782.3" rx="6.5" ry="7.5" fill="#000"/>
<ellipse cx="396.5" cy="812.7" rx="6.5" ry="7.5" fill="#000"/>
<ellipse cx="406.7" cy="842.8" rx="6.5" ry="7.5" fill="#000"/>
<ellipse cx="416.9" cy="872.8" rx="6.5" ry="7.5" fill="#000"/>
<ellipse cx="427.3" cy="903.1" rx="6.5" ry="7.5" fill="#000"/>
<ellipse cx="437.1" cy="933.5" rx="6.5" ry="7.5" fill="#000"/>
<ellipse cx="446.8" cy="963.6" rx="6.5" ry="7.5" fill="#000"/>
<ellipse cx="455.6" cy="994.4" rx="6.5" ry="7.5" fill="#000"/>
<ellipse cx="464.1" cy="1025.3" rx="6.5" ry="7.5" fill="#000"/>
<ellipse cx="471.3" cy="1056.5" rx="6.5" ry="7.5" fill="#000"/>
<ellipse cx="478.5" cy="1086.6" rx="6.5" ry="7.5" fill="#000"/>
</g>
<g transform="translate(588.5,752.7) scale(1,1.15)">
<line x1="-3.0" y1="-6.7" x2="3.0" y2="6.7" stroke="#006633" stroke-width="13.5" stroke-linecap="butt"/>
</g>
<g transform="translate(601.1,785.0) scale(1,1.15)">
<line x1="-3.0" y1="-6.7" x2="3.0" y2="6.7" stroke="#006633" stroke-width="13.5" stroke-linecap="butt"/>
</g>
<g transform="translate(613.6,817.2) scale(1,1.15)">
<line x1="-2.9" y1="-6.7" x2="2.9" y2="6.7" stroke="#006633" stroke-width="13.5" stroke-linecap="butt"/>
</g>
<g transform="translate(625.2,849.4) scale(1,1.15)">
<line x1="-2.7" y1="-6.8" x2="2.7" y2="6.8" stroke="#006633" stroke-width="13.5" stroke-linecap="butt"/>
</g>
<g transform="translate(636.3,882.5) scale(1,1.15)">
<line x1="-2.8" y1="-6.7" x2="2.8" y2="6.7" stroke="#006633" stroke-width="13.5" stroke-linecap="butt"/>
</g>
<g transform="translate(648.9,914.7) scale(1,1.15)">
<line x1="-3.0" y1="-6.7" x2="3.0" y2="6.7" stroke="#006633" stroke-width="13.5" stroke-linecap="butt"/>
</g>
<g transform="translate(661.4,947.0) scale(1,1.15)">
<line x1="-2.9" y1="-6.7" x2="2.9" y2="6.7" stroke="#006633" stroke-width="13.5" stroke-linecap="butt"/>
</g>
<g transform="translate(672.7,979.2) scale(1,1.15)">
<line x1="-2.9" y1="-6.7" x2="2.9" y2="6.7" stroke="#006633" stroke-width="13.5" stroke-linecap="butt"/>
</g>
<g transform="translate(685.2,1011.4) scale(1,1.15)">
<line x1="-2.9" y1="-6.7" x2="2.9" y2="6.7" stroke="#006633" stroke-width="13.5" stroke-linecap="butt"/>
</g>
<g transform="translate(696.8,1043.6) scale(1,1.15)">
<line x1="-2.7" y1="-6.8" x2="2.7" y2="6.8" stroke="#006633" stroke-width="13.5" stroke-linecap="butt"/>
</g>
<g transform="translate(707.6,1075.8) scale(1,1.15)">
<line x1="-2.6" y1="-6.8" x2="2.6" y2="6.8" stroke="#006633" stroke-width="13.5" stroke-linecap="butt"/>
</g>
<g transform="translate(803.0,775.1) scale(1,1.15)">
<line x1="-4.0" y1="-6.1" x2="4.0" y2="6.1" stroke="#006633" stroke-width="13.5" stroke-linecap="butt"/>
</g>
<g transform="translate(819.1,802.9) scale(1,1.15)">
<line x1="-3.6" y1="-6.4" x2="3.6" y2="6.4" stroke="#006633" stroke-width="13.5" stroke-linecap="butt"/>
</g>
<g transform="translate(831.1,832.4) scale(1,1.15)">
<line x1="-3.1" y1="-6.6" x2="3.1" y2="6.6" stroke="#006633" stroke-width="13.5" stroke-linecap="butt"/>
</g>
<g transform="translate(843.6,862.8) scale(1,1.15)">
<line x1="-3.3" y1="-6.5" x2="3.3" y2="6.5" stroke="#006633" stroke-width="13.5" stroke-linecap="butt"/>
</g>
<g transform="translate(857.0,891.8) scale(1,1.15)">
<line x1="-3.2" y1="-6.6" x2="3.2" y2="6.6" stroke="#006633" stroke-width="13.5" stroke-linecap="butt"/>
</g>
<g transform="translate(868.7,921.9) scale(1,1.15)">
<line x1="-3.0" y1="-6.7" x2="3.0" y2="6.7" stroke="#006633" stroke-width="13.5" stroke-linecap="butt"/>
</g>
<g transform="translate(880.3,952.3) scale(1,1.15)">
<line x1="-3.1" y1="-6.6" x2="3.1" y2="6.6" stroke="#006633" stroke-width="13.5" stroke-linecap="butt"/>
</g>
<g transform="translate(892.8,981.0) scale(1,1.15)">
<line x1="-3.4" y1="-6.5" x2="3.4" y2="6.5" stroke="#006633" stroke-width="13.5" stroke-linecap="butt"/>
</g>
<g transform="translate(907.1,1010.5) scale(1,1.15)">
<line x1="-3.3" y1="-6.5" x2="3.3" y2="6.5" stroke="#006633" stroke-width="13.5" stroke-linecap="butt"/>
</g>
<g transform="translate(919.3,1040.9) scale(1,1.15)">
<line x1="-3.2" y1="-6.6" x2="3.2" y2="6.6" stroke="#006633" stroke-width="13.5" stroke-linecap="butt"/>
</g>
<g transform="translate(932.2,1070.4) scale(1,1.15)">
<line x1="-3.3" y1="-6.5" x2="3.3" y2="6.5" stroke="#006633" stroke-width="13.5" stroke-linecap="butt"/>
</g>
<g transform="translate(1063.8,757.2) scale(1,1.15)">
<line x1="-2.7" y1="-6.8" x2="2.7" y2="6.8" stroke="#006633" stroke-width="13.5" stroke-linecap="butt"/>
</g>
<g transform="translate(1075.4,790.3) scale(1,1.15)">
<line x1="-2.7" y1="-6.8" x2="2.7" y2="6.8" stroke="#006633" stroke-width="13.5" stroke-linecap="butt"/>
</g>
<g transform="translate(1086.7,823.4) scale(1,1.15)">
<line x1="-2.6" y1="-6.8" x2="2.6" y2="6.8" stroke="#006633" stroke-width="13.5" stroke-linecap="butt"/>
</g>
<g transform="translate(1097.4,856.6) scale(1,1.15)">
<line x1="-2.8" y1="-6.8" x2="2.8" y2="6.8" stroke="#006633" stroke-width="13.5" stroke-linecap="butt"/>
</g>
<g transform="translate(1109.9,888.8) scale(1,1.15)">
<line x1="-2.8" y1="-6.7" x2="2.8" y2="6.7" stroke="#006633" stroke-width="13.5" stroke-linecap="butt"/>
</g>
<g transform="translate(1120.7,921.0) scale(1,1.15)">
<line x1="-2.7" y1="-6.8" x2="2.7" y2="6.8" stroke="#006633" stroke-width="13.5" stroke-linecap="butt"/>
</g>
<g transform="translate(1132.1,954.1) scale(1,1.15)">
<line x1="-2.6" y1="-6.8" x2="2.6" y2="6.8" stroke="#006633" stroke-width="13.5" stroke-linecap="butt"/>
</g>
<g transform="translate(1142.9,987.2) scale(1,1.15)">
<line x1="-2.7" y1="-6.8" x2="2.7" y2="6.8" stroke="#006633" stroke-width="13.5" stroke-linecap="butt"/>
</g>
<g transform="translate(1154.7,1020.3) scale(1,1.15)">
<line x1="-2.6" y1="-6.8" x2="2.6" y2="6.8" stroke="#006633" stroke-width="13.5" stroke-linecap="butt"/>
</g>
<g transform="translate(1164.9,1053.4) scale(1,1.15)">
<line x1="-2.4" y1="-6.9" x2="2.4" y2="6.9" stroke="#006633" stroke-width="13.5" stroke-linecap="butt"/>
</g>
<g transform="translate(1284.3,753.3) scale(1,1.15)">
<line x1="-2.8" y1="-6.7" x2="2.8" y2="6.7" stroke="#006633" stroke-width="13.5" stroke-linecap="butt"/>
</g>
<g transform="translate(1296.3,785.9) scale(1,1.15)">
<line x1="-2.6" y1="-6.8" x2="2.6" y2="6.8" stroke="#006633" stroke-width="13.5" stroke-linecap="butt"/>
</g>
<g transform="translate(1306.3,819.5) scale(1,1.15)">
<line x1="-2.4" y1="-6.9" x2="2.4" y2="6.9" stroke="#006633" stroke-width="13.5" stroke-linecap="butt"/>
</g>
<g transform="translate(1316.5,852.6) scale(1,1.15)">
<line x1="-2.5" y1="-6.9" x2="2.5" y2="6.9" stroke="#006633" stroke-width="13.5" stroke-linecap="butt"/>
</g>
<g transform="translate(1327.2,885.7) scale(1,1.15)">
<line x1="-2.5" y1="-6.9" x2="2.5" y2="6.9" stroke="#006633" stroke-width="13.5" stroke-linecap="butt"/>
</g>
<g transform="translate(1337.4,918.7) scale(1,1.15)">
<line x1="-2.6" y1="-6.8" x2="2.6" y2="6.8" stroke="#006633" stroke-width="13.5" stroke-linecap="butt"/>
</g>
<g transform="translate(1349.2,951.4) scale(1,1.15)">
<line x1="-2.7" y1="-6.8" x2="2.7" y2="6.8" stroke="#006633" stroke-width="13.5" stroke-linecap="butt"/>
</g>
<g transform="translate(1360.0,984.5) scale(1,1.15)">
<line x1="-2.5" y1="-6.8" x2="2.5" y2="6.8" stroke="#006633" stroke-width="13.5" stroke-linecap="butt"/>
</g>
<g transform="translate(1370.5,1017.6) scale(1,1.15)">
<line x1="-2.5" y1="-6.9" x2="2.5" y2="6.9" stroke="#006633" stroke-width="13.5" stroke-linecap="butt"/>
</g>
<g transform="translate(1380.9,1051.1) scale(1,1.15)">
<line x1="-2.5" y1="-6.9" x2="2.5" y2="6.9" stroke="#006633" stroke-width="13.5" stroke-linecap="butt"/>
</g>
<g transform="translate(1521.4,752.2) scale(1,1.15)">
<line x1="-1.9" y1="-7.1" x2="1.9" y2="7.1" stroke="#006633" stroke-width="13.5" stroke-linecap="butt"/>
</g>
<g transform="translate(1528.6,783.7) scale(1,1.15)">
<line x1="-1.8" y1="-7.1" x2="1.8" y2="7.1" stroke="#006633" stroke-width="13.5" stroke-linecap="butt"/>
</g>
<g transform="translate(1535.8,816.3) scale(1,1.15)">
<line x1="-1.8" y1="-7.1" x2="1.8" y2="7.1" stroke="#006633" stroke-width="13.5" stroke-linecap="butt"/>
</g>
<g transform="translate(1542.9,848.1) scale(1,1.15)">
<line x1="-1.7" y1="-7.1" x2="1.7" y2="7.1" stroke="#006633" stroke-width="13.5" stroke-linecap="butt"/>
</g>
<g transform="translate(1549.5,880.4) scale(1,1.15)">
<line x1="-1.6" y1="-7.1" x2="1.6" y2="7.1" stroke="#006633" stroke-width="13.5" stroke-linecap="butt"/>
</g>
<g transform="translate(1555.4,912.6) scale(1,1.15)">
<line x1="-1.7" y1="-7.1" x2="1.7" y2="7.1" stroke="#006633" stroke-width="13.5" stroke-linecap="butt"/>
</g>
<g transform="translate(1562.6,944.8) scale(1,1.15)">
<line x1="-2.1" y1="-7.0" x2="2.1" y2="7.0" stroke="#006633" stroke-width="13.5" stroke-linecap="butt"/>
</g>
<g transform="translate(1572.1,977.4) scale(1,1.15)">
<line x1="-2.0" y1="-7.0" x2="2.0" y2="7.0" stroke="#006633" stroke-width="13.5" stroke-linecap="butt"/>
</g>
<g transform="translate(1578.7,1008.7) scale(1,1.15)">
<line x1="-1.9" y1="-7.0" x2="1.9" y2="7.0" stroke="#006633" stroke-width="13.5" stroke-linecap="butt"/>
</g>
<g transform="translate(1586.8,1040.0) scale(1,1.15)">
<line x1="-1.9" y1="-7.0" x2="1.9" y2="7.0" stroke="#006633" stroke-width="13.5" stroke-linecap="butt"/>
</g>
<g transform="translate(1593.6,1072.2) scale(1,1.15)">
<line x1="-1.7" y1="-7.1" x2="1.7" y2="7.1" stroke="#006633" stroke-width="13.5" stroke-linecap="butt"/>
</g>
<g transform="translate(177.9,739.3) scale(1,1.15)">
<line x1="-0.3" y1="-1.2" x2="0.3" y2="1.2" stroke="#9900cc" stroke-width="13.3" stroke-linecap="round"/>
</g>
<g transform="translate(186.3,774.8) scale(1,1.15)">
<line x1="-0.3" y1="-1.2" x2="0.3" y2="1.2" stroke="#9900cc" stroke-width="13.3" stroke-linecap="round"/>
</g>
<g transform="translate(193.5,812.7) scale(1,1.15)">
<line x1="-0.2" y1="-1.2" x2="0.2" y2="1.2" stroke="#9900cc" stroke-width="13.3" stroke-linecap="round"/>
</g>
<g transform="translate(198.9,849.4) scale(1,1.15)">
<line x1="-0.3" y1="-1.2" x2="0.3" y2="1.2" stroke="#9900cc" stroke-width="13.3" stroke-linecap="round"/>
</g>
<g transform="translate(207.5,885.2) scale(1,1.15)">
<line x1="-0.3" y1="-1.2" x2="0.3" y2="1.2" stroke="#9900cc" stroke-width="13.3" stroke-linecap="round"/>
</g>
<g transform="translate(215.9,920.5) scale(1,1.15)">
<line x1="-0.3" y1="-1.2" x2="0.3" y2="1.2" stroke="#9900cc" stroke-width="13.3" stroke-linecap="round"/>
</g>
<g transform="translate(222.1,957.1) scale(1,1.15)">
<line x1="-0.3" y1="-1.2" x2="0.3" y2="1.2" stroke="#9900cc" stroke-width="13.3" stroke-linecap="round"/>
</g>
<g transform="translate(232.5,991.7) scale(1,1.15)">
<line x1="-0.4" y1="-1.2" x2="0.4" y2="1.2" stroke="#9900cc" stroke-width="13.3" stroke-linecap="round"/>
</g>
<g transform="translate(240.0,1026.6) scale(1,1.15)">
<line x1="-0.2" y1="-1.2" x2="0.2" y2="1.2" stroke="#9900cc" stroke-width="13.3" stroke-linecap="round"/>
</g>
<g transform="translate(245.0,1063.3) scale(1,1.15)">
<line x1="-0.2" y1="-1.2" x2="0.2" y2="1.2" stroke="#9900cc" stroke-width="13.3" stroke-linecap="round"/>
</g>
<g transform="translate(581.9,737.9) scale(1,1.15)">
<line x1="-0.4" y1="-1.2" x2="0.4" y2="1.2" stroke="#9900cc" stroke-width="13.3" stroke-linecap="round"/>
</g>
<g transform="translate(592.1,773.0) scale(1,1.15)">
<line x1="-0.4" y1="-1.2" x2="0.4" y2="1.2" stroke="#9900cc" stroke-width="13.3" stroke-linecap="round"/>
</g>
<g transform="translate(601.6,808.2) scale(1,1.15)">
<line x1="-0.4" y1="-1.2" x2="0.4" y2="1.2" stroke="#9900cc" stroke-width="13.3" stroke-linecap="round"/>
</g>
<g transform="translate(612.7,842.2) scale(1,1.15)">
<line x1="-0.5" y1="-1.2" x2="0.5" y2="1.2" stroke="#9900cc" stroke-width="13.3" stroke-linecap="round"/>
</g>
<g transform="translate(624.9,877.1) scale(1,1.15)">
<line x1="-0.4" y1="-1.2" x2="0.4" y2="1.2" stroke="#9900cc" stroke-width="13.3" stroke-linecap="round"/>
</g>
<g transform="translate(635.6,912.0) scale(1,1.15)">
<line x1="-0.4" y1="-1.2" x2="0.4" y2="1.2" stroke="#9900cc" stroke-width="13.3" stroke-linecap="round"/>
</g>
<g transform="translate(647.1,945.5) scale(1,1.15)">
<line x1="-0.4" y1="-1.2" x2="0.4" y2="1.2" stroke="#9900cc" stroke-width="13.3" stroke-linecap="round"/>
</g>
<g transform="translate(658.3,980.1) scale(1,1.15)">
<line x1="-0.5" y1="-1.2" x2="0.5" y2="1.2" stroke="#9900cc" stroke-width="13.3" stroke-linecap="round"/>
</g>
<g transform="translate(672.1,1013.2) scale(1,1.15)">
<line x1="-0.5" y1="-1.1" x2="0.5" y2="1.1" stroke="#9900cc" stroke-width="13.3" stroke-linecap="round"/>
</g>
<g transform="translate(683.4,1047.2) scale(1,1.15)">
<line x1="-0.5" y1="-1.2" x2="0.5" y2="1.2" stroke="#9900cc" stroke-width="13.3" stroke-linecap="round"/>
</g>
<g transform="translate(696.5,1081.2) scale(1,1.15)">
<line x1="-0.5" y1="-1.1" x2="0.5" y2="1.1" stroke="#9900cc" stroke-width="13.3" stroke-linecap="round"/>
</g>
<g transform="translate(794.7,761.7) scale(1,1.15)">
<line x1="-0.5" y1="-1.2" x2="0.5" y2="1.2" stroke="#9900cc" stroke-width="13.3" stroke-linecap="round"/>
</g>
<g transform="translate(806.9,795.7) scale(1,1.15)">
<line x1="-0.4" y1="-1.2" x2="0.4" y2="1.2" stroke="#9900cc" stroke-width="13.3" stroke-linecap="round"/>
</g>
<g transform="translate(817.6,830.6) scale(1,1.15)">
<line x1="-0.4" y1="-1.2" x2="0.4" y2="1.2" stroke="#9900cc" stroke-width="13.3" stroke-linecap="round"/>
</g>
<g transform="translate(829.3,864.6) scale(1,1.15)">
<line x1="-0.5" y1="-1.1" x2="0.5" y2="1.1" stroke="#9900cc" stroke-width="13.3" stroke-linecap="round"/>
</g>
<g transform="translate(843.6,897.7) scale(1,1.15)">
<line x1="-0.5" y1="-1.1" x2="0.5" y2="1.1" stroke="#9900cc" stroke-width="13.3" stroke-linecap="round"/>
</g>
<g transform="translate(856.7,930.8) scale(1,1.15)">
<line x1="-0.5" y1="-1.1" x2="0.5" y2="1.1" stroke="#9900cc" stroke-width="13.3" stroke-linecap="round"/>
</g>
<g transform="translate(871.3,963.9) scale(1,1.15)">
<line x1="-0.6" y1="-1.1" x2="0.6" y2="1.1" stroke="#9900cc" stroke-width="13.3" stroke-linecap="round"/>
</g>
<g transform="translate(886.6,996.2) scale(1,1.15)">
<line x1="-0.6" y1="-1.1" x2="0.6" y2="1.1" stroke="#9900cc" stroke-width="13.3" stroke-linecap="round"/>
</g>
<g transform="translate(902.1,1027.5) scale(1,1.15)">
<line x1="-0.7" y1="-1.1" x2="0.7" y2="1.1" stroke="#9900cc" stroke-width="13.3" stroke-linecap="round"/>
</g>
<g transform="translate(920.0,1057.9) scale(1,1.15)">
<line x1="-0.8" y1="-1.0" x2="0.8" y2="1.0" stroke="#9900cc" stroke-width="13.3" stroke-linecap="round"/>
</g>
<g transform="translate(942.6,1083.9) scale(1,1.15)">
<line x1="-0.9" y1="-0.9" x2="0.9" y2="0.9" stroke="#9900cc" stroke-width="13.3" stroke-linecap="round"/>
</g>
<g transform="translate(1073.6,737.9) scale(1,1.15)">
<line x1="-0.3" y1="-1.2" x2="0.3" y2="1.2" stroke="#9900cc" stroke-width="13.3" stroke-linecap="round"/>
</g>
<g transform="translate(1081.3,773.7) scale(1,1.15)">
<line x1="-0.3" y1="-1.2" x2="0.3" y2="1.2" stroke="#9900cc" stroke-width="13.3" stroke-linecap="round"/>
</g>
<g transform="translate(1087.9,810.0) scale(1,1.15)">
<line x1="-0.3" y1="-1.2" x2="0.3" y2="1.2" stroke="#9900cc" stroke-width="13.3" stroke-linecap="round"/>
</g>
<g transform="translate(1095.4,845.8) scale(1,1.15)">
<line x1="-0.3" y1="-1.2" x2="0.3" y2="1.2" stroke="#9900cc" stroke-width="13.3" stroke-linecap="round"/>
</g>
<g transform="translate(1104.0,881.1) scale(1,1.15)">
<line x1="-0.3" y1="-1.2" x2="0.3" y2="1.2" stroke="#9900cc" stroke-width="13.3" stroke-linecap="round"/>
</g>
<g transform="translate(1113.0,916.9) scale(1,1.15)">
<line x1="-0.4" y1="-1.2" x2="0.4" y2="1.2" stroke="#9900cc" stroke-width="13.3" stroke-linecap="round"/>
</g>
<g transform="translate(1124.3,951.4) scale(1,1.15)">
<line x1="-0.4" y1="-1.2" x2="0.4" y2="1.2" stroke="#9900cc" stroke-width="13.3" stroke-linecap="round"/>
</g>
<g transform="translate(1135.0,985.4) scale(1,1.15)">
<line x1="-0.4" y1="-1.2" x2="0.4" y2="1.2" stroke="#9900cc" stroke-width="13.3" stroke-linecap="round"/>
</g>
<g transform="translate(1147.0,1019.4) scale(1,1.15)">
<line x1="-0.5" y1="-1.2" x2="0.5" y2="1.2" stroke="#9900cc" stroke-width="13.3" stroke-linecap="round"/>
</g>
<g transform="translate(1159.5,1053.4) scale(1,1.15)">
<line x1="-0.5" y1="-1.2" x2="0.5" y2="1.2" stroke="#9900cc" stroke-width="13.3" stroke-linecap="round"/>
</g>
<g transform="translate(1346.0,738.4) scale(1,1.15)">
<line x1="-0.1" y1="-1.2" x2="0.1" y2="1.2" stroke="#9900cc" stroke-width="13.3" stroke-linecap="round"/>
</g>
<g transform="translate(1348.2,776.0) scale(1,1.15)">
<line x1="-0.0" y1="-1.2" x2="0.0" y2="1.2" stroke="#9900cc" stroke-width="13.3" stroke-linecap="round"/>
</g>
<g transform="translate(1347.8,812.7) scale(1,1.15)">
<line x1="-0.0" y1="-1.2" x2="0.0" y2="1.2" stroke="#9900cc" stroke-width="13.3" stroke-linecap="round"/>
</g>
<g transform="translate(1348.7,849.4) scale(1,1.15)">
<line x1="-0.0" y1="-1.2" x2="0.0" y2="1.2" stroke="#9900cc" stroke-width="13.3" stroke-linecap="round"/>
</g>
<g transform="translate(1349.6,886.1) scale(1,1.15)">
<line x1="-0.0" y1="-1.2" x2="0.0" y2="1.2" stroke="#9900cc" stroke-width="13.3" stroke-linecap="round"/>
</g>
<g transform="translate(1350.0,922.8) scale(1,1.15)">
<line x1="-0.0" y1="-1.2" x2="0.0" y2="1.2" stroke="#9900cc" stroke-width="13.3" stroke-linecap="round"/>
</g>
<g transform="translate(1350.5,959.5) scale(1,1.15)">
<line x1="0.0" y1="-1.2" x2="-0.0" y2="1.2" stroke="#9900cc" stroke-width="13.3" stroke-linecap="round"/>
</g>
<g transform="translate(1348.7,996.2) scale(1,1.15)">
<line x1="0.1" y1="-1.2" x2="-0.1" y2="1.2" stroke="#9900cc" stroke-width="13.3" stroke-linecap="round"/>
</g>
<g transform="translate(1345.7,1032.9) scale(1,1.15)">
<line x1="0.1" y1="-1.2" x2="-0.1" y2="1.2" stroke="#9900cc" stroke-width="13.3" stroke-linecap="round"/>
</g>
<g transform="translate(1342.8,1068.7) scale(1,1.15)">
<line x1="0.1" y1="-1.2" x2="-0.1" y2="1.2" stroke="#9900cc" stroke-width="13.3" stroke-linecap="round"/>
</g>
<g transform="translate(1553.7,733.1) scale(1,1.15)">
<line x1="-0.1" y1="-1.2" x2="0.1" y2="1.2" stroke="#9900cc" stroke-width="13.3" stroke-linecap="round"/>
</g>
<g transform="translate(1557.2,769.7) scale(1,1.15)">
<line x1="-0.1" y1="-1.2" x2="0.1" y2="1.2" stroke="#9900cc" stroke-width="13.3" stroke-linecap="round"/>
</g>
<g transform="translate(1560.5,806.4) scale(1,1.15)">
<line x1="-0.1" y1="-1.2" x2="0.1" y2="1.2" stroke="#9900cc" stroke-width="13.3" stroke-linecap="round"/>
</g>
<g transform="translate(1563.5,843.1) scale(1,1.15)">
<line x1="-0.1" y1="-1.2" x2="0.1" y2="1.2" stroke="#9900cc" stroke-width="13.3" stroke-linecap="round"/>
</g>
<g transform="translate(1564.9,879.8) scale(1,1.15)">
<line x1="-0.1" y1="-1.2" x2="0.1" y2="1.2" stroke="#9900cc" stroke-width="13.3" stroke-linecap="round"/>
</g>
<g transform="translate(1566.2,916.5) scale(1,1.15)">
<line x1="-0.0" y1="-1.2" x2="0.0" y2="1.2" stroke="#9900cc" stroke-width="13.3" stroke-linecap="round"/>
</g>
<g transform="translate(1567.1,953.2) scale(1,1.15)">
<line x1="-0.1" y1="-1.2" x2="0.1" y2="1.2" stroke="#9900cc" stroke-width="13.3" stroke-linecap="round"/>
</g>
<g transform="translate(1569.2,989.9) scale(1,1.15)">
<line x1="-0.0" y1="-1.2" x2="0.0" y2="1.2" stroke="#9900cc" stroke-width="13.3" stroke-linecap="round"/>
</g>
<g transform="translate(1568.5,1026.6) scale(1,1.15)">
<line x1="0.0" y1="-1.2" x2="-0.0" y2="1.2" stroke="#9900cc" stroke-width="13.3" stroke-linecap="round"/>
</g>
<g transform="translate(1568.5,1063.3) scale(1,1.15)">
<line x1="-0.0" y1="-1.2" x2="0.0" y2="1.2" stroke="#9900cc" stroke-width="13.3" stroke-linecap="round"/>
</g>
<g transform="translate(181.9,752.7) scale(1,1.15)">
<line x1="-1.7" y1="-7.1" x2="1.7" y2="7.1" stroke="#006633" stroke-width="13.5" stroke-linecap="butt"/>
</g>
<g transform="translate(188.5,785.0) scale(1,1.15)">
<line x1="-1.8" y1="-7.1" x2="1.8" y2="7.1" stroke="#006633" stroke-width="13.5" stroke-linecap="butt"/>
</g>
<g transform="translate(196.2,816.3) scale(1,1.15)">
<line x1="-2.2" y1="-6.9" x2="2.2" y2="6.9" stroke="#006633" stroke-width="13.5" stroke-linecap="butt"/>
</g>
<g transform="translate(206.0,847.6) scale(1,1.15)">
<line x1="-2.1" y1="-7.0" x2="2.1" y2="7.0" stroke="#006633" stroke-width="13.5" stroke-linecap="butt"/>
</g>
<g transform="translate(212.8,879.8) scale(1,1.15)">
<line x1="-2.0" y1="-7.0" x2="2.0" y2="7.0" stroke="#006633" stroke-width="13.5" stroke-linecap="butt"/>
</g>
<g transform="translate(221.8,912.0) scale(1,1.15)">
<line x1="-1.9" y1="-7.0" x2="1.9" y2="7.0" stroke="#006633" stroke-width="13.5" stroke-linecap="butt"/>
</g>
<g transform="translate(227.9,944.3) scale(1,1.15)">
<line x1="-1.4" y1="-7.2" x2="1.4" y2="7.2" stroke="#006633" stroke-width="13.5" stroke-linecap="butt"/>
</g>
<g transform="translate(232.5,976.5) scale(1,1.15)">
<line x1="-0.9" y1="-7.2" x2="0.9" y2="7.2" stroke="#006633" stroke-width="13.5" stroke-linecap="butt"/>
</g>
<g transform="translate(235.0,1008.7) scale(1,1.15)">
<line x1="-0.7" y1="-7.3" x2="0.7" y2="7.3" stroke="#006633" stroke-width="13.5" stroke-linecap="butt"/>
</g>
<g transform="translate(238.2,1040.9) scale(1,1.15)">
<line x1="-0.6" y1="-7.3" x2="0.6" y2="7.3" stroke="#006633" stroke-width="13.5" stroke-linecap="butt"/>
</g>
<g transform="translate(240.0,1074.9) scale(1,1.15)">
<line x1="-0.4" y1="-7.3" x2="0.4" y2="7.3" stroke="#006633" stroke-width="13.5" stroke-linecap="butt"/>
</g>
<rect x="78.4" y="1222.4" width="1597.0" height="81.8" fill="none" stroke="#d4d4d4" stroke-width="1.4"/>
<ellipse cx="119.4" cy="1263.7" rx="6.2" ry="6.8" fill="#000"/>
<ellipse cx="149.0" cy="1263.7" rx="6.2" ry="6.8" fill="#000"/>
<text x="187.6" y="1272.6" font-family='"Liberation Sans", Arial, sans-serif' font-size="27" font-weight="bold" text-anchor="start" fill="#000" textLength="191.6" lengthAdjust="spacingAndGlyphs">2D ideal fluid flow</text>
<ellipse cx="393.3" cy="1263.7" rx="6.2" ry="6.8" fill="#9900cc"/>
<ellipse cx="424.6" cy="1263.7" rx="6.2" ry="6.8" fill="#9900cc"/>
<text x="474.3" y="1272.6" font-family='"Liberation Sans", Arial, sans-serif' font-size="27" font-weight="bold" text-anchor="start" fill="#000" textLength="533.9" lengthAdjust="spacingAndGlyphs">third order velocity profile (Orgaz and Hager 2013)</text>
<rect x="1027.0" y="1256.5" width="14.8" height="14.5" fill="#006633"/>
<rect x="1055.9" y="1256.5" width="14.8" height="14.5" fill="#006633"/>
<text x="1101.7" y="1272.6" font-family='"Liberation Sans", Arial, sans-serif' font-size="27" font-weight="bold" text-anchor="start" fill="#000" textLength="556.7" lengthAdjust="spacingAndGlyphs">second order velocity profile (Orgaz and Hager 2013)</text>
<text x="830.7" y="1423.9" font-family='"Liberation Serif", "Times New Roman", serif' font-size="45" font-weight="normal" text-anchor="start" fill="#000" textLength="47.5" lengthAdjust="spacingAndGlyphs">(<tspan font-weight="bold">c</tspan>)</text>
<line x1="216.5" y1="1973.7" x2="220.5" y2="1973.7" stroke="#aaa" stroke-width="1.3" stroke-linecap="butt"/>
<line x1="216.5" y1="1919.5" x2="220.5" y2="1919.5" stroke="#aaa" stroke-width="1.3" stroke-linecap="butt"/>
<line x1="216.5" y1="1865.3" x2="220.5" y2="1865.3" stroke="#aaa" stroke-width="1.3" stroke-linecap="butt"/>
<line x1="216.5" y1="1811.2" x2="220.5" y2="1811.2" stroke="#aaa" stroke-width="1.3" stroke-linecap="butt"/>
<line x1="216.5" y1="1757.0" x2="220.5" y2="1757.0" stroke="#aaa" stroke-width="1.3" stroke-linecap="butt"/>
<line x1="216.5" y1="1702.8" x2="220.5" y2="1702.8" stroke="#aaa" stroke-width="1.3" stroke-linecap="butt"/>
<line x1="216.5" y1="1648.6" x2="220.5" y2="1648.6" stroke="#aaa" stroke-width="1.3" stroke-linecap="butt"/>
<line x1="216.5" y1="1594.4" x2="220.5" y2="1594.4" stroke="#aaa" stroke-width="1.3" stroke-linecap="butt"/>
<line x1="216.5" y1="1540.3" x2="220.5" y2="1540.3" stroke="#aaa" stroke-width="1.3" stroke-linecap="butt"/>
<line x1="216.5" y1="1486.1" x2="220.5" y2="1486.1" stroke="#aaa" stroke-width="1.3" stroke-linecap="butt"/>
<line x1="227.3" y1="2003.5" x2="227.3" y2="2014.4" stroke="#444" stroke-width="1.4" stroke-linecap="butt"/>
<line x1="390.0" y1="2003.5" x2="390.0" y2="2014.4" stroke="#444" stroke-width="1.4" stroke-linecap="butt"/>
<line x1="552.7" y1="2003.5" x2="552.7" y2="2014.4" stroke="#444" stroke-width="1.4" stroke-linecap="butt"/>
<line x1="715.4" y1="2003.5" x2="715.4" y2="2014.4" stroke="#444" stroke-width="1.4" stroke-linecap="butt"/>
<line x1="878.1" y1="2003.5" x2="878.1" y2="2014.4" stroke="#444" stroke-width="1.4" stroke-linecap="butt"/>
<line x1="1040.8" y1="2003.5" x2="1040.8" y2="2014.4" stroke="#444" stroke-width="1.4" stroke-linecap="butt"/>
<line x1="1203.5" y1="2003.5" x2="1203.5" y2="2014.4" stroke="#444" stroke-width="1.4" stroke-linecap="butt"/>
<line x1="1366.2" y1="2003.5" x2="1366.2" y2="2014.4" stroke="#444" stroke-width="1.4" stroke-linecap="butt"/>
<line x1="210.5" y1="1459.3" x2="1367.0" y2="1459.3" stroke="#000" stroke-width="5.3" stroke-linecap="butt"/>
<line x1="1367.0" y1="1458.9" x2="1613.5" y2="1458.9" stroke="#000" stroke-width="4.7" stroke-linecap="butt"/>
<line x1="213.4" y1="1457.0" x2="213.4" y2="2003.5" stroke="#000" stroke-width="6.2" stroke-linecap="butt"/>
<line x1="213.5" y1="1462.0" x2="213.5" y2="1998.0" stroke="#7a7a7a" stroke-width="1.4" stroke-linecap="butt"/>
<line x1="210.5" y1="2001.0" x2="1613.5" y2="2001.0" stroke="#000" stroke-width="5.6" stroke-linecap="butt"/>
<line x1="1367.1" y1="1457.0" x2="1367.1" y2="2003.5" stroke="#000" stroke-width="5.0" stroke-linecap="butt"/>
<line x1="1611.9" y1="1459.0" x2="1611.9" y2="2000.0" stroke="#555" stroke-width="1.6" stroke-linecap="butt"/>
<polyline points="227.3,1459.3 291.3,1501.3 318.8,1520.0 346.3,1537.5 372.0,1553.8 397.5,1571.3 423.0,1588.8 450.0,1606.3 475.0,1623.8 500.0,1640.5 526.3,1658.0 552.5,1674.5 577.5,1691.3 603.8,1708.0 629.5,1727.0 655.0,1743.8 681.3,1760.0 707.0,1777.0 732.5,1794.5 758.8,1811.3 785.0,1828.8 810.0,1845.0 836.3,1862.5 862.5,1878.8 888.8,1895.5 915.0,1912.5 941.3,1929.5 966.3,1946.3 992.5,1962.5 1018.0,1979.5 1042.5,1995.0 1050.5,1999.5" fill="none" stroke="#9c00e8" stroke-width="2.2"/>
<line x1="261.6" y1="1481.8" x2="273.4" y2="1489.5" stroke="#9c00e8" stroke-width="2.4" stroke-linecap="butt"/>
<line x1="271.3" y1="1479.8" x2="263.7" y2="1491.5" stroke="#9c00e8" stroke-width="2.4" stroke-linecap="butt"/>
<line x1="311.7" y1="1515.2" x2="323.3" y2="1523.0" stroke="#9c00e8" stroke-width="2.4" stroke-linecap="butt"/>
<line x1="321.4" y1="1513.3" x2="313.6" y2="1524.9" stroke="#9c00e8" stroke-width="2.4" stroke-linecap="butt"/>
<line x1="361.6" y1="1547.2" x2="373.4" y2="1554.7" stroke="#9c00e8" stroke-width="2.4" stroke-linecap="butt"/>
<line x1="371.3" y1="1545.0" x2="363.7" y2="1556.9" stroke="#9c00e8" stroke-width="2.4" stroke-linecap="butt"/>
<line x1="411.7" y1="1581.1" x2="423.3" y2="1589.0" stroke="#9c00e8" stroke-width="2.4" stroke-linecap="butt"/>
<line x1="421.5" y1="1579.3" x2="413.5" y2="1590.8" stroke="#9c00e8" stroke-width="2.4" stroke-linecap="butt"/>
<line x1="461.8" y1="1614.5" x2="473.2" y2="1622.6" stroke="#9c00e8" stroke-width="2.4" stroke-linecap="butt"/>
<line x1="471.5" y1="1612.8" x2="463.5" y2="1624.3" stroke="#9c00e8" stroke-width="2.4" stroke-linecap="butt"/>
<line x1="511.7" y1="1648.3" x2="523.3" y2="1656.0" stroke="#9c00e8" stroke-width="2.4" stroke-linecap="butt"/>
<line x1="521.4" y1="1646.3" x2="513.6" y2="1658.0" stroke="#9c00e8" stroke-width="2.4" stroke-linecap="butt"/>
<line x1="561.7" y1="1680.7" x2="573.3" y2="1688.5" stroke="#9c00e8" stroke-width="2.4" stroke-linecap="butt"/>
<line x1="571.4" y1="1678.8" x2="563.6" y2="1690.4" stroke="#9c00e8" stroke-width="2.4" stroke-linecap="butt"/>
<line x1="611.9" y1="1714.0" x2="623.1" y2="1722.3" stroke="#9c00e8" stroke-width="2.4" stroke-linecap="butt"/>
<line x1="621.7" y1="1712.5" x2="613.3" y2="1723.8" stroke="#9c00e8" stroke-width="2.4" stroke-linecap="butt"/>
<line x1="661.5" y1="1747.8" x2="673.5" y2="1755.2" stroke="#9c00e8" stroke-width="2.4" stroke-linecap="butt"/>
<line x1="671.2" y1="1745.5" x2="663.8" y2="1757.5" stroke="#9c00e8" stroke-width="2.4" stroke-linecap="butt"/>
<line x1="711.7" y1="1780.2" x2="723.3" y2="1788.2" stroke="#9c00e8" stroke-width="2.4" stroke-linecap="butt"/>
<line x1="721.5" y1="1778.4" x2="713.5" y2="1790.0" stroke="#9c00e8" stroke-width="2.4" stroke-linecap="butt"/>
<line x1="761.7" y1="1813.2" x2="773.3" y2="1821.0" stroke="#9c00e8" stroke-width="2.4" stroke-linecap="butt"/>
<line x1="771.4" y1="1811.3" x2="763.6" y2="1822.9" stroke="#9c00e8" stroke-width="2.4" stroke-linecap="butt"/>
<line x1="811.7" y1="1846.1" x2="823.3" y2="1853.9" stroke="#9c00e8" stroke-width="2.4" stroke-linecap="butt"/>
<line x1="821.4" y1="1844.2" x2="813.6" y2="1855.8" stroke="#9c00e8" stroke-width="2.4" stroke-linecap="butt"/>
<line x1="861.6" y1="1878.2" x2="873.4" y2="1885.7" stroke="#9c00e8" stroke-width="2.4" stroke-linecap="butt"/>
<line x1="871.3" y1="1876.1" x2="863.7" y2="1887.9" stroke="#9c00e8" stroke-width="2.4" stroke-linecap="butt"/>
<line x1="911.6" y1="1910.3" x2="923.4" y2="1917.9" stroke="#9c00e8" stroke-width="2.4" stroke-linecap="butt"/>
<line x1="921.3" y1="1908.2" x2="913.7" y2="1920.0" stroke="#9c00e8" stroke-width="2.4" stroke-linecap="butt"/>
<line x1="961.6" y1="1943.3" x2="973.4" y2="1950.8" stroke="#9c00e8" stroke-width="2.4" stroke-linecap="butt"/>
<line x1="971.3" y1="1941.1" x2="963.7" y2="1952.9" stroke="#9c00e8" stroke-width="2.4" stroke-linecap="butt"/>
<line x1="1011.6" y1="1975.3" x2="1023.4" y2="1983.0" stroke="#9c00e8" stroke-width="2.4" stroke-linecap="butt"/>
<line x1="1021.3" y1="1973.3" x2="1013.7" y2="1985.0" stroke="#9c00e8" stroke-width="2.4" stroke-linecap="butt"/>
<polygon points="230.9,1462.7 241.2,1461.6 244.3,1471.4 234.0,1472.5" fill="#339966"/>
<polygon points="259.4,1481.4 269.6,1480.3 272.8,1490.1 262.5,1491.2" fill="#339966"/>
<polygon points="287.9,1500.0 298.2,1499.1 301.2,1509.0 290.9,1509.9" fill="#339966"/>
<polygon points="316.3,1519.4 326.5,1518.2 329.8,1528.0 319.5,1529.2" fill="#339966"/>
<polygon points="344.8,1537.5 355.0,1536.3 358.3,1546.1 348.0,1547.3" fill="#339966"/>
<polygon points="373.4,1555.8 383.7,1554.9 386.6,1564.8 376.3,1565.6" fill="#339966"/>
<polygon points="401.9,1575.3 412.2,1574.5 415.1,1584.4 404.8,1585.2" fill="#339966"/>
<polygon points="430.2,1594.5 440.5,1593.4 443.7,1603.2 433.4,1604.3" fill="#339966"/>
<polygon points="458.9,1613.5 469.2,1612.8 472.0,1622.7 461.7,1623.4" fill="#339966"/>
<polygon points="487.3,1633.0 497.5,1632.0 500.6,1641.9 490.3,1642.8" fill="#339966"/>
<polygon points="515.7,1652.0 526.0,1651.0 529.1,1660.8 518.8,1661.8" fill="#339966"/>
<polygon points="544.2,1670.1 554.4,1669.0 557.6,1678.8 547.4,1679.9" fill="#339966"/>
<polygon points="572.6,1689.1 582.9,1688.0 586.1,1697.8 575.8,1698.9" fill="#339966"/>
<polygon points="601.4,1707.3 611.7,1706.7 614.3,1716.7 604.0,1717.2" fill="#339966"/>
<polygon points="629.6,1728.1 639.9,1727.1 643.0,1736.9 632.7,1737.9" fill="#339966"/>
<polygon points="658.0,1746.6 668.2,1745.3 671.6,1755.0 661.4,1756.4" fill="#339966"/>
<polygon points="686.6,1764.5 696.9,1763.5 700.0,1773.3 689.7,1774.3" fill="#339966"/>
<polygon points="715.2,1783.6 725.4,1782.8 728.4,1792.7 718.1,1793.5" fill="#339966"/>
<polygon points="743.5,1802.5 753.7,1801.4 757.0,1811.1 746.7,1812.3" fill="#339966"/>
<polygon points="772.1,1821.2 782.3,1820.2 785.4,1830.0 775.1,1831.0" fill="#339966"/>
<polygon points="800.5,1839.8 810.7,1838.7 813.9,1848.6 803.7,1849.6" fill="#339966"/>
<polygon points="829.0,1858.7 839.2,1857.6 842.4,1867.4 832.2,1868.5" fill="#339966"/>
<polygon points="857.4,1876.6 867.6,1875.4 870.9,1885.1 860.7,1886.4" fill="#339966"/>
<polygon points="885.9,1894.6 896.2,1893.5 899.4,1903.3 889.1,1904.4" fill="#339966"/>
<polygon points="914.4,1913.1 924.6,1912.0 927.8,1921.8 917.6,1922.9" fill="#339966"/>
<polygon points="943.0,1931.6 953.2,1930.7 956.2,1940.5 946.0,1941.5" fill="#339966"/>
<polygon points="971.3,1950.4 981.5,1949.1 984.9,1958.8 974.7,1960.1" fill="#339966"/>
<polygon points="999.9,1968.4 1010.2,1967.5 1013.2,1977.3 1003.0,1978.3" fill="#339966"/>
<polygon points="1028.3,1987.0 1038.5,1985.8 1041.8,1995.6 1031.6,1996.8" fill="#339966"/>
<polygon points="236.1,1458.4 249.0,1466.8 242.9,1476.2 230.0,1467.8" fill="#009a33"/>
<polygon points="262.0,1475.4 274.9,1483.8 268.8,1493.2 255.9,1484.8" fill="#009a33"/>
<polygon points="288.0,1492.4 300.8,1500.9 294.6,1510.2 281.8,1501.7" fill="#009a33"/>
<polygon points="313.9,1510.0 326.7,1518.5 320.5,1527.8 307.7,1519.3" fill="#009a33"/>
<polygon points="339.6,1526.6 352.6,1534.9 346.6,1544.3 333.6,1536.1" fill="#009a33"/>
<polygon points="365.6,1543.0 378.5,1551.4 372.4,1560.8 359.5,1552.4" fill="#009a33"/>
<polygon points="391.7,1560.5 404.4,1569.3 398.1,1578.5 385.4,1569.8" fill="#009a33"/>
<polygon points="417.6,1578.3 430.3,1587.0 424.0,1596.2 411.3,1587.6" fill="#009a33"/>
<polygon points="443.3,1595.3 456.2,1603.7 450.1,1613.1 437.2,1604.6" fill="#009a33"/>
<polygon points="469.5,1613.1 482.1,1621.9 475.7,1631.1 463.1,1622.3" fill="#009a33"/>
<polygon points="495.2,1630.6 508.0,1639.1 501.8,1648.4 489.0,1639.9" fill="#009a33"/>
<polygon points="521.0,1647.8 533.9,1656.3 527.8,1665.6 514.9,1657.2" fill="#009a33"/>
<polygon points="546.8,1664.2 559.8,1672.6 553.8,1682.0 540.8,1673.7" fill="#009a33"/>
<polygon points="572.8,1681.5 585.7,1690.0 579.6,1699.3 566.7,1690.9" fill="#009a33"/>
<polygon points="598.8,1698.0 611.6,1706.6 605.4,1715.9 592.6,1707.3" fill="#009a33"/>
<polygon points="625.0,1716.9 637.5,1725.8 631.0,1734.9 618.5,1726.0" fill="#009a33"/>
<polygon points="650.4,1734.2 663.4,1742.5 657.4,1751.9 644.4,1743.6" fill="#009a33"/>
<polygon points="676.3,1750.2 689.3,1758.5 683.3,1767.9 670.3,1759.7" fill="#009a33"/>
<polygon points="702.4,1767.2 715.2,1775.8 709.0,1785.1 696.2,1776.5" fill="#009a33"/>
<polygon points="728.3,1785.0 741.1,1793.5 734.9,1802.8 722.1,1794.3" fill="#009a33"/>
<polygon points="754.1,1801.6 767.0,1810.0 760.9,1819.4 748.0,1811.0" fill="#009a33"/>
<polygon points="780.1,1818.8 792.9,1827.3 786.7,1836.6 773.9,1828.2" fill="#009a33"/>
<polygon points="805.9,1835.6 818.8,1844.1 812.7,1853.5 799.8,1845.0" fill="#009a33"/>
<polygon points="831.8,1852.9 844.7,1861.3 838.6,1870.7 825.7,1862.3" fill="#009a33"/>
<polygon points="857.5,1869.1 870.6,1877.3 864.7,1886.8 851.6,1878.6" fill="#009a33"/>
<polygon points="883.5,1885.5 896.5,1893.8 890.5,1903.2 877.5,1894.9" fill="#009a33"/>
<polygon points="909.5,1902.3 922.4,1910.6 916.3,1920.0 903.4,1911.6" fill="#009a33"/>
<polygon points="935.4,1919.0 948.3,1927.4 942.2,1936.8 929.3,1928.4" fill="#009a33"/>
<polygon points="961.3,1936.3 974.2,1944.8 968.1,1954.1 955.2,1945.7" fill="#009a33"/>
<polygon points="987.1,1952.5 1000.1,1960.7 994.1,1970.2 981.1,1961.9" fill="#009a33"/>
<polygon points="1013.1,1969.6 1026.0,1978.0 1019.9,1987.4 1007.0,1979.0" fill="#009a33"/>
<polygon points="1038.7,1986.2 1051.9,1994.1 1046.1,2003.7 1032.9,1995.8" fill="#009a33"/>
<polygon points="219.2,1470.2 233.9,1463.4 233.1,1478.6" fill="#990099"/>
<polygon points="245.7,1489.2 260.4,1482.4 259.6,1497.6" fill="#990099"/>
<polygon points="278.2,1508.0 292.9,1501.2 292.1,1516.4" fill="#990099"/>
<polygon points="305.7,1528.0 320.4,1521.2 319.6,1536.4" fill="#990099"/>
<polygon points="332.0,1549.2 346.7,1542.4 345.9,1557.6" fill="#990099"/>
<polygon points="358.2,1566.7 372.9,1559.9 372.1,1575.1" fill="#990099"/>
<polygon points="388.2,1585.5 402.9,1578.7 402.1,1593.9" fill="#990099"/>
<polygon points="415.7,1606.7 430.4,1599.9 429.6,1615.1" fill="#990099"/>
<polygon points="444.5,1628.0 459.2,1621.2 458.4,1636.4" fill="#990099"/>
<polygon points="472.0,1649.2 486.7,1642.4 485.9,1657.6" fill="#990099"/>
<polygon points="498.2,1668.0 512.9,1661.2 512.1,1676.4" fill="#990099"/>
<polygon points="527.0,1688.7 541.7,1681.9 540.9,1697.1" fill="#990099"/>
<polygon points="554.5,1708.0 569.2,1701.2 568.4,1716.4" fill="#990099"/>
<polygon points="582.0,1728.0 596.7,1721.2 595.9,1736.4" fill="#990099"/>
<polygon points="609.5,1748.0 624.2,1741.2 623.4,1756.4" fill="#990099"/>
<polygon points="637.7,1768.0 652.4,1761.2 651.6,1776.4" fill="#990099"/>
<polygon points="665.2,1788.0 679.9,1781.2 679.1,1796.4" fill="#990099"/>
<polygon points="692.0,1808.0 706.7,1801.2 705.9,1816.4" fill="#990099"/>
<polygon points="719.5,1828.7 734.2,1821.9 733.4,1837.1" fill="#990099"/>
<polygon points="746.2,1849.2 760.9,1842.4 760.1,1857.6" fill="#990099"/>
<polygon points="774.5,1868.7 789.2,1861.9 788.4,1877.1" fill="#990099"/>
<polygon points="802.0,1888.0 816.7,1881.2 815.9,1896.4" fill="#990099"/>
<polygon points="830.7,1908.0 845.4,1901.2 844.6,1916.4" fill="#990099"/>
<polygon points="857.7,1928.0 872.4,1921.2 871.6,1936.4" fill="#990099"/>
<polygon points="885.2,1948.0 899.9,1941.2 899.1,1956.4" fill="#990099"/>
<polygon points="912.5,1968.0 927.2,1961.2 926.4,1976.4" fill="#990099"/>
<polygon points="939.5,1988.0 954.2,1981.2 953.4,1996.4" fill="#990099"/>
<circle cx="238.1" cy="1474.1" r="7.4" fill="#3500cf"/>
<circle cx="261.6" cy="1496.6" r="7.4" fill="#3500cf"/>
<circle cx="287.2" cy="1518.7" r="7.4" fill="#3500cf"/>
<circle cx="312.8" cy="1540.7" r="7.4" fill="#3500cf"/>
<circle cx="338.0" cy="1564.5" r="7.4" fill="#3500cf"/>
<circle cx="363.0" cy="1587.0" r="7.4" fill="#3500cf"/>
<circle cx="388.0" cy="1610.0" r="7.4" fill="#3500cf"/>
<circle cx="417.0" cy="1628.0" r="7.4" fill="#3500cf"/>
<circle cx="442.0" cy="1648.8" r="7.4" fill="#3500cf"/>
<circle cx="466.3" cy="1673.0" r="7.4" fill="#3500cf"/>
<circle cx="490.0" cy="1698.0" r="7.4" fill="#3500cf"/>
<circle cx="513.0" cy="1722.0" r="7.4" fill="#3500cf"/>
<circle cx="533.3" cy="1749.3" r="7.4" fill="#3500cf"/>
<circle cx="561.3" cy="1768.0" r="7.4" fill="#3500cf"/>
<circle cx="587.0" cy="1789.5" r="7.4" fill="#3500cf"/>
<circle cx="608.8" cy="1815.5" r="7.4" fill="#3500cf"/>
<circle cx="630.0" cy="1841.8" r="7.4" fill="#3500cf"/>
<circle cx="650.0" cy="1868.3" r="7.4" fill="#3500cf"/>
<circle cx="669.5" cy="1895.5" r="7.4" fill="#3500cf"/>
<circle cx="693.0" cy="1919.5" r="7.4" fill="#3500cf"/>
<circle cx="718.0" cy="1942.0" r="7.4" fill="#3500cf"/>
<circle cx="733.3" cy="1970.8" r="7.4" fill="#3500cf"/>
<circle cx="215.5" cy="1459.0" r="7.1" fill="#1170d9"/>
<circle cx="229.0" cy="1466.6" r="7.1" fill="#1170d9"/>
<circle cx="242.1" cy="1471.6" r="7.1" fill="#1170d9"/>
<circle cx="259.1" cy="1476.1" r="7.1" fill="#1170d9"/>
<circle cx="272.5" cy="1483.5" r="7.1" fill="#1170d9"/>
<circle cx="288.2" cy="1487.1" r="7.1" fill="#1170d9"/>
<circle cx="299.7" cy="1497.1" r="7.1" fill="#1170d9"/>
<circle cx="311.3" cy="1509.2" r="7.1" fill="#1170d9"/>
<circle cx="323.3" cy="1517.2" r="7.1" fill="#1170d9"/>
<circle cx="333.8" cy="1528.7" r="7.1" fill="#1170d9"/>
<circle cx="343.8" cy="1540.2" r="7.1" fill="#1170d9"/>
<circle cx="353.4" cy="1552.8" r="7.1" fill="#1170d9"/>
<circle cx="364.5" cy="1564.5" r="7.1" fill="#1170d9"/>
<circle cx="375.0" cy="1575.0" r="7.1" fill="#1170d9"/>
<circle cx="386.3" cy="1585.0" r="7.1" fill="#1170d9"/>
<circle cx="398.0" cy="1595.0" r="7.1" fill="#1170d9"/>
<circle cx="410.0" cy="1605.5" r="7.1" fill="#1170d9"/>
<circle cx="422.0" cy="1615.0" r="7.1" fill="#1170d9"/>
<circle cx="432.5" cy="1625.5" r="7.1" fill="#1170d9"/>
<circle cx="443.8" cy="1637.0" r="7.1" fill="#1170d9"/>
<circle cx="455.0" cy="1647.5" r="7.1" fill="#1170d9"/>
<circle cx="467.0" cy="1657.0" r="7.1" fill="#1170d9"/>
<circle cx="478.8" cy="1667.0" r="7.1" fill="#1170d9"/>
<circle cx="490.5" cy="1677.0" r="7.1" fill="#1170d9"/>
<circle cx="502.5" cy="1687.0" r="7.1" fill="#1170d9"/>
<circle cx="513.0" cy="1697.5" r="7.1" fill="#1170d9"/>
<circle cx="523.0" cy="1708.8" r="7.1" fill="#1170d9"/>
<circle cx="534.5" cy="1720.0" r="7.1" fill="#1170d9"/>
<circle cx="546.3" cy="1730.0" r="7.1" fill="#1170d9"/>
<circle cx="557.5" cy="1739.5" r="7.1" fill="#1170d9"/>
<circle cx="568.8" cy="1750.0" r="7.1" fill="#1170d9"/>
<circle cx="579.5" cy="1761.3" r="7.1" fill="#1170d9"/>
<circle cx="590.5" cy="1772.5" r="7.1" fill="#1170d9"/>
<circle cx="602.0" cy="1782.5" r="7.1" fill="#1170d9"/>
<circle cx="613.8" cy="1793.0" r="7.1" fill="#1170d9"/>
<circle cx="625.5" cy="1802.5" r="7.1" fill="#1170d9"/>
<circle cx="636.8" cy="1813.0" r="7.1" fill="#1170d9"/>
<circle cx="648.8" cy="1823.0" r="7.1" fill="#1170d9"/>
<circle cx="660.0" cy="1833.8" r="7.1" fill="#1170d9"/>
<circle cx="671.3" cy="1844.5" r="7.1" fill="#1170d9"/>
<circle cx="682.0" cy="1855.0" r="7.1" fill="#1170d9"/>
<circle cx="692.5" cy="1866.3" r="7.1" fill="#1170d9"/>
<circle cx="703.0" cy="1877.5" r="7.1" fill="#1170d9"/>
<circle cx="713.0" cy="1888.8" r="7.1" fill="#1170d9"/>
<circle cx="724.5" cy="1900.0" r="7.1" fill="#1170d9"/>
<circle cx="735.8" cy="1910.0" r="7.1" fill="#1170d9"/>
<circle cx="747.0" cy="1920.0" r="7.1" fill="#1170d9"/>
<circle cx="758.0" cy="1930.0" r="7.1" fill="#1170d9"/>
<circle cx="768.8" cy="1941.3" r="7.1" fill="#1170d9"/>
<circle cx="779.5" cy="1953.3" r="7.1" fill="#1170d9"/>
<circle cx="789.5" cy="1964.5" r="7.1" fill="#1170d9"/>
<circle cx="800.0" cy="1975.0" r="7.1" fill="#1170d9"/>
<circle cx="810.0" cy="1987.5" r="7.1" fill="#1170d9"/>
<polyline points="227.3,1459.3 247.1,1476.1 264.1,1488.1 282.2,1497.1 300.7,1506.6 319.3,1515.7 334.3,1528.2 355.0,1545.0 380.0,1571.3 410.0,1595.0 445.0,1625.0 475.0,1647.5 505.0,1672.5 537.5,1697.5 557.5,1717.5 585.0,1747.5 625.0,1785.0 670.0,1825.0 715.0,1870.0 755.0,1907.5 795.0,1940.0 822.5,1965.0 862.0,1998.5" fill="none" stroke="#000" stroke-width="5.2" stroke-dasharray="10 10.5" stroke-dashoffset="-14"/>
<line x1="230.0" y1="1461.0" x2="249.6" y2="1471.1" stroke="#707070" stroke-width="5.2" stroke-linecap="butt"/>
<line x1="266.1" y1="1478.6" x2="285.7" y2="1489.1" stroke="#707070" stroke-width="5.2" stroke-linecap="butt"/>
<line x1="302.2" y1="1498.1" x2="322.8" y2="1508.2" stroke="#707070" stroke-width="5.2" stroke-linecap="butt"/>
<line x1="338.8" y1="1516.7" x2="359.4" y2="1527.7" stroke="#707070" stroke-width="5.2" stroke-linecap="butt"/>
<line x1="376.0" y1="1536.8" x2="395.3" y2="1547.0" stroke="#707070" stroke-width="5.2" stroke-linecap="butt"/>
<line x1="411.0" y1="1558.0" x2="430.3" y2="1570.8" stroke="#707070" stroke-width="5.2" stroke-linecap="butt"/>
<line x1="444.8" y1="1581.8" x2="464.0" y2="1594.5" stroke="#707070" stroke-width="5.2" stroke-linecap="butt"/>
<line x1="479.8" y1="1604.3" x2="499.0" y2="1614.5" stroke="#707070" stroke-width="5.2" stroke-linecap="butt"/>
<line x1="514.8" y1="1624.3" x2="534.0" y2="1635.8" stroke="#707070" stroke-width="5.2" stroke-linecap="butt"/>
<line x1="549.8" y1="1646.8" x2="569.0" y2="1659.5" stroke="#707070" stroke-width="5.2" stroke-linecap="butt"/>
<line x1="583.5" y1="1671.8" x2="601.5" y2="1682.0" stroke="#707070" stroke-width="5.2" stroke-linecap="butt"/>
<line x1="618.5" y1="1693.0" x2="637.8" y2="1702.0" stroke="#707070" stroke-width="5.2" stroke-linecap="butt"/>
<line x1="653.5" y1="1714.9" x2="671.5" y2="1727.6" stroke="#707070" stroke-width="5.2" stroke-linecap="butt"/>
<line x1="686.0" y1="1739.3" x2="705.3" y2="1753.3" stroke="#707070" stroke-width="5.2" stroke-linecap="butt"/>
<line x1="719.8" y1="1765.5" x2="737.8" y2="1778.3" stroke="#707070" stroke-width="5.2" stroke-linecap="butt"/>
<line x1="753.5" y1="1786.8" x2="772.8" y2="1799.5" stroke="#707070" stroke-width="5.2" stroke-linecap="butt"/>
<line x1="787.3" y1="1808.0" x2="807.8" y2="1820.8" stroke="#707070" stroke-width="5.2" stroke-linecap="butt"/>
<line x1="823.5" y1="1831.8" x2="844.0" y2="1842.0" stroke="#707070" stroke-width="5.2" stroke-linecap="butt"/>
<line x1="858.5" y1="1851.8" x2="879.0" y2="1862.0" stroke="#707070" stroke-width="5.2" stroke-linecap="butt"/>
<line x1="893.5" y1="1873.0" x2="912.8" y2="1884.5" stroke="#707070" stroke-width="5.2" stroke-linecap="butt"/>
<line x1="928.5" y1="1895.5" x2="949.0" y2="1905.8" stroke="#707070" stroke-width="5.2" stroke-linecap="butt"/>
<line x1="963.5" y1="1916.8" x2="984.0" y2="1928.3" stroke="#707070" stroke-width="5.2" stroke-linecap="butt"/>
<line x1="998.5" y1="1936.8" x2="1019.0" y2="1949.5" stroke="#707070" stroke-width="5.2" stroke-linecap="butt"/>
<line x1="1033.5" y1="1960.5" x2="1054.0" y2="1972.0" stroke="#707070" stroke-width="5.2" stroke-linecap="butt"/>
<line x1="1067.3" y1="1984.3" x2="1084.0" y2="1997.0" stroke="#707070" stroke-width="5.2" stroke-linecap="butt"/>
<line x1="229.0" y1="1458.3" x2="241.0" y2="1463.3" stroke="#cc3300" stroke-width="10.8" stroke-linecap="round"/>
<line x1="311.5" y1="1491.9" x2="323.5" y2="1496.9" stroke="#cc3300" stroke-width="10.8" stroke-linecap="round"/>
<line x1="394.1" y1="1528.0" x2="405.9" y2="1533.2" stroke="#cc3300" stroke-width="10.8" stroke-linecap="round"/>
<line x1="475.4" y1="1564.1" x2="487.2" y2="1569.7" stroke="#cc3300" stroke-width="10.8" stroke-linecap="round"/>
<line x1="555.4" y1="1604.2" x2="567.2" y2="1609.6" stroke="#cc3300" stroke-width="10.8" stroke-linecap="round"/>
<line x1="637.2" y1="1639.1" x2="648.8" y2="1644.7" stroke="#cc3300" stroke-width="10.8" stroke-linecap="round"/>
<line x1="715.5" y1="1681.5" x2="727.1" y2="1687.3" stroke="#cc3300" stroke-width="10.8" stroke-linecap="round"/>
<line x1="796.7" y1="1718.4" x2="808.3" y2="1724.2" stroke="#cc3300" stroke-width="10.8" stroke-linecap="round"/>
<line x1="874.3" y1="1761.9" x2="885.7" y2="1768.1" stroke="#cc3300" stroke-width="10.8" stroke-linecap="round"/>
<line x1="954.2" y1="1803.4" x2="965.8" y2="1809.2" stroke="#cc3300" stroke-width="10.8" stroke-linecap="round"/>
<line x1="1034.2" y1="1842.7" x2="1045.8" y2="1848.5" stroke="#cc3300" stroke-width="10.8" stroke-linecap="round"/>
<line x1="1113.7" y1="1883.0" x2="1125.3" y2="1889.0" stroke="#cc3300" stroke-width="10.8" stroke-linecap="round"/>
<line x1="1192.6" y1="1924.6" x2="1204.2" y2="1930.6" stroke="#cc3300" stroke-width="10.8" stroke-linecap="round"/>
<line x1="1272.0" y1="1964.5" x2="1283.6" y2="1970.3" stroke="#cc3300" stroke-width="10.8" stroke-linecap="round"/>
<circle cx="276.3" cy="1477.5" r="5.8" fill="#cc3300"/>
<circle cx="357.5" cy="1513.8" r="5.8" fill="#cc3300"/>
<circle cx="440.0" cy="1548.0" r="5.8" fill="#cc3300"/>
<circle cx="520.5" cy="1587.0" r="5.8" fill="#cc3300"/>
<circle cx="602.0" cy="1625.0" r="5.8" fill="#cc3300"/>
<circle cx="681.8" cy="1664.3" r="5.8" fill="#cc3300"/>
<circle cx="761.3" cy="1703.8" r="5.8" fill="#cc3300"/>
<circle cx="840.7" cy="1744.5" r="5.8" fill="#cc3300"/>
<circle cx="920.5" cy="1784.5" r="5.8" fill="#cc3300"/>
<circle cx="999.5" cy="1825.0" r="5.8" fill="#cc3300"/>
<circle cx="1078.8" cy="1866.3" r="5.8" fill="#cc3300"/>
<circle cx="1158.5" cy="1906.7" r="5.8" fill="#cc3300"/>
<circle cx="1238.5" cy="1946.4" r="5.8" fill="#cc3300"/>
<circle cx="1317.6" cy="1987.6" r="5.8" fill="#cc3300"/>
<text x="199.6" y="2011.7" font-family='"Liberation Sans", Arial, sans-serif' font-size="30.5" font-weight="bold" text-anchor="end" fill="#000" textLength="19.0" lengthAdjust="spacingAndGlyphs">0</text>
<text x="199.6" y="1957.5" font-family='"Liberation Sans", Arial, sans-serif' font-size="30.5" font-weight="bold" text-anchor="end" fill="#000" textLength="47.5" lengthAdjust="spacingAndGlyphs">0.1</text>
<text x="199.6" y="1903.3" font-family='"Liberation Sans", Arial, sans-serif' font-size="30.5" font-weight="bold" text-anchor="end" fill="#000" textLength="47.5" lengthAdjust="spacingAndGlyphs">0.2</text>
<text x="199.6" y="1849.2" font-family='"Liberation Sans", Arial, sans-serif' font-size="30.5" font-weight="bold" text-anchor="end" fill="#000" textLength="47.5" lengthAdjust="spacingAndGlyphs">0.3</text>
<text x="199.6" y="1795.0" font-family='"Liberation Sans", Arial, sans-serif' font-size="30.5" font-weight="bold" text-anchor="end" fill="#000" textLength="47.5" lengthAdjust="spacingAndGlyphs">0.4</text>
<text x="199.6" y="1740.8" font-family='"Liberation Sans", Arial, sans-serif' font-size="30.5" font-weight="bold" text-anchor="end" fill="#000" textLength="47.5" lengthAdjust="spacingAndGlyphs">0.5</text>
<text x="199.6" y="1686.6" font-family='"Liberation Sans", Arial, sans-serif' font-size="30.5" font-weight="bold" text-anchor="end" fill="#000" textLength="47.5" lengthAdjust="spacingAndGlyphs">0.6</text>
<text x="199.6" y="1632.4" font-family='"Liberation Sans", Arial, sans-serif' font-size="30.5" font-weight="bold" text-anchor="end" fill="#000" textLength="47.5" lengthAdjust="spacingAndGlyphs">0.7</text>
<text x="199.6" y="1578.3" font-family='"Liberation Sans", Arial, sans-serif' font-size="30.5" font-weight="bold" text-anchor="end" fill="#000" textLength="47.5" lengthAdjust="spacingAndGlyphs">0.8</text>
<text x="199.6" y="1524.1" font-family='"Liberation Sans", Arial, sans-serif' font-size="30.5" font-weight="bold" text-anchor="end" fill="#000" textLength="47.5" lengthAdjust="spacingAndGlyphs">0.9</text>
<text x="199.6" y="1469.9" font-family='"Liberation Sans", Arial, sans-serif' font-size="30.5" font-weight="bold" text-anchor="end" fill="#000" textLength="19.0" lengthAdjust="spacingAndGlyphs">1</text>
<text x="227.3" y="2059.8" font-family='"Liberation Sans", Arial, sans-serif' font-size="30.5" font-weight="bold" text-anchor="middle" fill="#000" textLength="19.0" lengthAdjust="spacingAndGlyphs">0</text>
<text x="390.0" y="2059.8" font-family='"Liberation Sans", Arial, sans-serif' font-size="30.5" font-weight="bold" text-anchor="middle" fill="#000" textLength="47.5" lengthAdjust="spacingAndGlyphs">0.2</text>
<text x="552.7" y="2059.8" font-family='"Liberation Sans", Arial, sans-serif' font-size="30.5" font-weight="bold" text-anchor="middle" fill="#000" textLength="47.5" lengthAdjust="spacingAndGlyphs">0.4</text>
<text x="715.4" y="2059.8" font-family='"Liberation Sans", Arial, sans-serif' font-size="30.5" font-weight="bold" text-anchor="middle" fill="#000" textLength="47.5" lengthAdjust="spacingAndGlyphs">0.6</text>
<text x="878.1" y="2059.8" font-family='"Liberation Sans", Arial, sans-serif' font-size="30.5" font-weight="bold" text-anchor="middle" fill="#000" textLength="47.5" lengthAdjust="spacingAndGlyphs">0.8</text>
<text x="1040.8" y="2059.8" font-family='"Liberation Sans", Arial, sans-serif' font-size="30.5" font-weight="bold" text-anchor="middle" fill="#000" textLength="19.0" lengthAdjust="spacingAndGlyphs">1</text>
<text x="1203.5" y="2059.8" font-family='"Liberation Sans", Arial, sans-serif' font-size="30.5" font-weight="bold" text-anchor="middle" fill="#000" textLength="47.5" lengthAdjust="spacingAndGlyphs">1.2</text>
<text x="1366.2" y="2059.8" font-family='"Liberation Sans", Arial, sans-serif' font-size="30.5" font-weight="bold" text-anchor="middle" fill="#000" textLength="47.5" lengthAdjust="spacingAndGlyphs">1.4</text>
<text x="0.0" y="0.0" font-family='"Liberation Serif", "Times New Roman", serif' font-size="46" font-weight="bold" font-style="italic" text-anchor="middle" fill="#000" textLength="68.0" lengthAdjust="spacingAndGlyphs" transform="translate(137.5,1729) rotate(-90)">η/y</text>
<text x="789.7" y="2125.2" font-family='"Liberation Serif", "Times New Roman", serif' font-size="44" font-weight="bold" font-style="italic" text-anchor="start" fill="#000" textLength="113.0" lengthAdjust="spacingAndGlyphs">p/ρgy</text>
<text x="1481.1" y="1512.2" font-family='"Liberation Sans", Arial, sans-serif' font-size="28.5" font-weight="bold" text-anchor="start" fill="#000" textLength="107.8" lengthAdjust="spacingAndGlyphs">x=-0.4m</text>
<text x="1481.1" y="1568.4" font-family='"Liberation Sans", Arial, sans-serif' font-size="28.5" font-weight="bold" text-anchor="start" fill="#000" textLength="107.8" lengthAdjust="spacingAndGlyphs">x=-0.3m</text>
<text x="1481.1" y="1626.3" font-family='"Liberation Sans", Arial, sans-serif' font-size="28.5" font-weight="bold" text-anchor="start" fill="#000" textLength="107.8" lengthAdjust="spacingAndGlyphs">x=-0.2m</text>
<text x="1481.1" y="1683.3" font-family='"Liberation Sans", Arial, sans-serif' font-size="28.5" font-weight="bold" text-anchor="start" fill="#000" textLength="107.8" lengthAdjust="spacingAndGlyphs">x=-0.1m</text>
<text x="1481.1" y="1739.8" font-family='"Liberation Sans", Arial, sans-serif' font-size="28.5" font-weight="bold" text-anchor="start" fill="#000" textLength="72.7" lengthAdjust="spacingAndGlyphs">x=0m</text>
<text x="1481.1" y="1796.0" font-family='"Liberation Sans", Arial, sans-serif' font-size="28.5" font-weight="bold" text-anchor="start" fill="#000" textLength="97.6" lengthAdjust="spacingAndGlyphs">x=0.1m</text>
<text x="1481.1" y="1852.3" font-family='"Liberation Sans", Arial, sans-serif' font-size="28.5" font-weight="bold" text-anchor="start" fill="#000" textLength="97.6" lengthAdjust="spacingAndGlyphs">x=0.2m</text>
<text x="1481.1" y="1909.4" font-family='"Liberation Sans", Arial, sans-serif' font-size="28.5" font-weight="bold" text-anchor="start" fill="#000" textLength="97.6" lengthAdjust="spacingAndGlyphs">x=0.3m</text>
<text x="1481.1" y="1965.6" font-family='"Liberation Sans", Arial, sans-serif' font-size="28.5" font-weight="bold" text-anchor="start" fill="#000" textLength="97.6" lengthAdjust="spacingAndGlyphs">x=0.5m</text>
<line x1="1399.8" y1="1500.5" x2="1434.2" y2="1500.5" stroke="#9c00e8" stroke-width="2.4" stroke-linecap="butt"/>
<line x1="1440.2" y1="1501.3" x2="1454.2" y2="1501.3" stroke="#9c00e8" stroke-width="2.4" stroke-linecap="butt"/>
<line x1="1447.2" y1="1494.3" x2="1447.2" y2="1508.3" stroke="#9c00e8" stroke-width="2.4" stroke-linecap="butt"/>
<clipPath id="clipLeg"><rect x="1380" y="1450" width="73.6" height="550"/></clipPath>
<g clip-path="url(#clipLeg)">
<polygon points="1408.5,1558.3 1417.0,1551.3 1425.5,1558.3 1417.0,1565.3" fill="#339966"/>
<polygon points="1444.9,1558.3 1453.4,1551.3 1461.9,1558.3 1453.4,1565.3" fill="#339966"/>
<polygon points="1408.5,1679.3 1417,1665.3 1425.5,1679.3" fill="#990099"/>
<polygon points="1444.9,1679.3 1453.4,1665.3 1461.9,1679.3" fill="#990099"/>
<circle cx="1418.1" cy="1728.9" r="7.8" fill="#3500cf"/>
<circle cx="1453.4" cy="1728.9" r="7.8" fill="#3500cf"/>
</g>
<rect x="1406.9" y="1608.6" width="15.6" height="13.3" fill="#009a33"/>
<rect x="1438.1" y="1608.6" width="15.6" height="13.3" fill="#009a33"/>
<circle cx="1399.8" cy="1785.6" r="7.0" fill="#1170d9"/>
<circle cx="1415.5" cy="1785.6" r="7.0" fill="#1170d9"/>
<circle cx="1431.1" cy="1785.6" r="7.0" fill="#1170d9"/>
<circle cx="1446.7" cy="1785.6" r="7.0" fill="#1170d9"/>
<line x1="1400.3" y1="1842.2" x2="1411.6" y2="1842.2" stroke="#000" stroke-width="4.4" stroke-linecap="butt"/>
<line x1="1421.7" y1="1842.2" x2="1432.7" y2="1842.2" stroke="#000" stroke-width="4.4" stroke-linecap="butt"/>
<line x1="1442.5" y1="1842.2" x2="1453.4" y2="1842.2" stroke="#000" stroke-width="4.4" stroke-linecap="butt"/>
<line x1="1400.3" y1="1899.2" x2="1426.9" y2="1899.2" stroke="#7f7f7f" stroke-width="5.0" stroke-linecap="butt"/>
<line x1="1442.5" y1="1899.2" x2="1453.4" y2="1899.2" stroke="#7f7f7f" stroke-width="5.0" stroke-linecap="butt"/>
<line x1="1397.5" y1="1956.3" x2="1413.1" y2="1956.3" stroke="#cc3300" stroke-width="11.0" stroke-linecap="round"/>
<circle cx="1450.3" cy="1956.3" r="5.9" fill="#cc3300"/>
</svg></body></html>
